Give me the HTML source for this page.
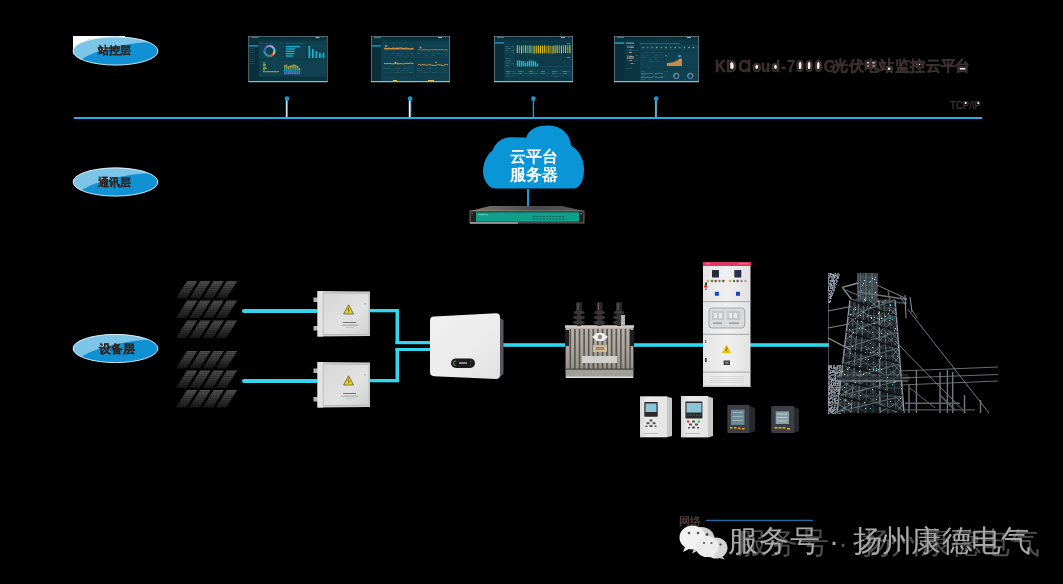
<!DOCTYPE html>
<html><head><meta charset="utf-8">
<style>
html,body{margin:0;padding:0;background:#000;}
body{width:1063px;height:584px;overflow:hidden;position:relative;font-family:"Liberation Sans",sans-serif;}
svg{position:absolute;left:0;top:0;will-change:transform;}
</style></head>
<body>
<svg width="1063" height="584" viewBox="0 0 1063 584" font-family="Liberation Sans, sans-serif">
<defs>
  <clipPath id="ellc"><ellipse cx="115.5" cy="0" rx="42.5" ry="14.2"/></clipPath>
  <g id="ell">
    <ellipse cx="115.5" cy="0" rx="42.5" ry="14.2" fill="#0f91d4"/>
    <path clip-path="url(#ellc)" d="M70,-16 L162,-16 L162,-10 C130,-8 100,-4 79,10 L70,14 Z" fill="#7dc5e7"/>
    <ellipse cx="115.5" cy="0" rx="42.4" ry="14.1" fill="none" stroke="#f0f8fc" stroke-width="1" opacity="0.85"/>
  </g>
  <linearGradient id="pg" x1="0" y1="0" x2="0" y2="1"><stop offset="0" stop-color="#525252"/><stop offset="0.5" stop-color="#363636"/><stop offset="1" stop-color="#181818"/></linearGradient>
  <pattern id="pstripe" width="3" height="2.2" patternUnits="userSpaceOnUse"><rect width="3" height="0.6" fill="#000" opacity="0.35"/><rect width="0.6" height="2.2" fill="#000" opacity="0.15"/></pattern>
</defs>
<rect x="73" y="36" width="52" height="18" fill="#fff"/>
<use href="#ell" y="51"/>
<use href="#ell" y="182"/>
<use href="#ell" y="348.5"/>
<g font-weight="bold" font-size="11" fill="#35241f" stroke="#35241f" stroke-width="0.15" text-anchor="middle">
  <text x="114.2" y="54">站控层</text>
  <text x="114.2" y="185.5">通讯层</text>
  <text x="117" y="353.2" font-size="12">设备层</text>
</g>
<rect x="74" y="117" width="908" height="2" fill="#29abe2"/>
<g>
  <rect x="285.8" y="100" width="1.3" height="17" fill="#c4e4f4"/><rect x="287.1" y="100" width="0.9" height="17" fill="#3aaae0"/>
  <rect x="408.8" y="100" width="1.9" height="17" fill="#f2f7fa"/><rect x="410.7" y="100" width="0.6" height="17" fill="#3aaae0"/>
  <rect x="532.7" y="100" width="1.4" height="17" fill="#1a9ad6"/>
  <rect x="654.9" y="100" width="0.6" height="17" fill="#3aaae0"/><rect x="655.5" y="100" width="1.1" height="17" fill="#d4ecf8"/><rect x="656.6" y="100" width="0.6" height="17" fill="#3aaae0"/>
</g>
<g fill="#1796d6">
  <circle cx="287" cy="98.6" r="2.4"/><circle cx="410.1" cy="98.6" r="2.4"/><circle cx="533.4" cy="98.6" r="2.4"/><circle cx="656.2" cy="98.6" r="2.4"/>
</g>
<g fill="#f4f0f0">
<rect x="730.2" y="62" width="3.8" height="7" rx="1.5"/>
<ellipse cx="756.6" cy="66.5" rx="1.6" ry="2.5"/>
<ellipse cx="775.6" cy="66.5" rx="1.6" ry="2.5"/>
<ellipse cx="800.1" cy="65" rx="1.9" ry="4.3"/>
<ellipse cx="809.1" cy="65" rx="1.9" ry="4.3"/>
<ellipse cx="818.1" cy="65" rx="1.9" ry="4.3"/>
<rect x="866.9" y="61.9" width="2.6" height="1.7"/><rect x="872.2" y="61.9" width="3.2" height="1.7"/>
<rect x="866.9" y="64.9" width="2.6" height="1.6"/><rect x="872.2" y="64.9" width="3.2" height="1.6"/>
<rect x="887.3" y="67.2" width="3.3" height="2.6"/>
<rect x="901" y="67.5" width="1.5" height="2"/><rect x="903.3" y="67.5" width="1.5" height="2"/>
<rect x="916.3" y="63.8" width="4" height="1.4"/>
<rect x="959.6" y="66.9" width="6.4" height="2.7"/>
</g>
<g transform="scale(0.88,1)"><text x="812.50 825.11 839.32 848.98 854.77 864.77 876.25 887.50 894.43 904.66 914.77 925.34 936.02" y="71.8" font-size="17" font-weight="bold" fill="#3d2f2f" stroke="#3d2f2f" stroke-width="0.45">KDCloud-7000G</text></g>
<text x="833 849.4 863.9 879.4 895.2 910.2 925.7 940.7 955.2" y="71.2" font-size="15" font-weight="bold" fill="#3d2f2f" stroke="#3d2f2f" stroke-width="0.35">光伏电站监控云平台</text>
<rect x="964.6" y="101.8" width="2" height="2.2" fill="#f0eaea"/><rect x="977.4" y="101.8" width="2" height="2.2" fill="#f0eaea"/>
<text x="950" y="108.8" font-size="11" fill="#4a3a3a" stroke="#4a3a3a" stroke-width="0.2" textLength="31" lengthAdjust="spacingAndGlyphs">TCP/IP</text>
<g id="screens"><rect x="248.5" y="36" width="79" height="46" fill="#0d3b49"/><rect x="248.5" y="36" width="79" height="2.6" fill="#082a35"/><rect x="248.5" y="38.6" width="79" height="2" fill="#0b3441"/><rect x="248.5" y="40.6" width="10" height="41.4" fill="#0a2f3b"/><rect x="248.5" y="81.2" width="79" height="1" fill="#e8eef0" opacity="0.85"/><rect x="248.5" y="36" width="0.6" height="46" fill="#cfd8dc" opacity="0.6"/><rect x="326.9" y="36" width="0.6" height="46" fill="#cfd8dc" opacity="0.6"/><rect x="248.5" y="36" width="79" height="0.6" fill="#cfd8dc" opacity="0.6"/><rect x="251.5" y="37" width="7" height="0.8" fill="#5c8a98"/><rect x="315.5" y="37" width="4" height="1" fill="#aab"/><rect x="322.5" y="36.8" width="0.8" height="1.2" fill="#c44"/><rect x="248.5" y="45" width="10" height="1.8" fill="#1e7fa0"/><rect x="250.0" y="48.0" width="5" height="0.5" fill="#2b5a68"/><rect x="250.0" y="50.2" width="5" height="0.5" fill="#2b5a68"/><rect x="250.0" y="52.4" width="5" height="0.5" fill="#2b5a68"/><rect x="250.0" y="54.6" width="5" height="0.5" fill="#2b5a68"/><rect x="250.0" y="56.8" width="5" height="0.5" fill="#2b5a68"/><rect x="250.0" y="59.0" width="5" height="0.5" fill="#2b5a68"/><rect x="250.0" y="61.2" width="5" height="0.5" fill="#2b5a68"/><rect x="250.0" y="63.400000000000006" width="5" height="0.5" fill="#2b5a68"/><rect x="259" y="42" width="25" height="17" fill="#0f4150"/><rect x="285" y="42" width="21" height="17" fill="#0f4150"/><rect x="307" y="42" width="20" height="17" fill="#0f4150"/><rect x="259" y="60" width="24" height="16" fill="#0f4150"/><rect x="284" y="60" width="43" height="16" fill="#0f4150"/><circle cx="269.5" cy="51" r="5" fill="none" stroke="#e8c030" stroke-width="2.2" stroke-dasharray="3.93 31.42" stroke-dashoffset="0.00"/><circle cx="269.5" cy="51" r="5" fill="none" stroke="#e05050" stroke-width="2.2" stroke-dasharray="3.93 31.42" stroke-dashoffset="-3.93"/><circle cx="269.5" cy="51" r="5" fill="none" stroke="#20a878" stroke-width="2.2" stroke-dasharray="3.93 31.42" stroke-dashoffset="-7.85"/><circle cx="269.5" cy="51" r="5" fill="none" stroke="#3a8ad0" stroke-width="2.2" stroke-dasharray="3.93 31.42" stroke-dashoffset="-11.78"/><circle cx="269.5" cy="51" r="5" fill="none" stroke="#2a6ab8" stroke-width="2.2" stroke-dasharray="3.93 31.42" stroke-dashoffset="-15.71"/><circle cx="269.5" cy="51" r="5" fill="none" stroke="#9a7ad8" stroke-width="2.2" stroke-dasharray="3.93 31.42" stroke-dashoffset="-19.63"/><circle cx="269.5" cy="51" r="5" fill="none" stroke="#c0a0e0" stroke-width="2.2" stroke-dasharray="3.93 31.42" stroke-dashoffset="-23.56"/><circle cx="269.5" cy="51" r="5" fill="none" stroke="#6ac0e8" stroke-width="2.2" stroke-dasharray="3.93 31.42" stroke-dashoffset="-27.49"/><rect x="285.8" y="46.00" width="14.2" height="1.3" fill="#1ab0d0"/><rect x="285.8" y="48.35" width="9.2" height="1.3" fill="#1ab0d0"/><rect x="285.8" y="50.70" width="8.8" height="1.3" fill="#1ab0d0"/><rect x="285.8" y="53.05" width="8.6" height="1.3" fill="#1ab0d0"/><rect x="285.8" y="55.40" width="7.2" height="1.3" fill="#1ab0d0"/><rect x="308.5" y="46" width="1.8" height="12" fill="#1ab0d0"/><rect x="312" y="49" width="1.8" height="9" fill="#1ab0d0"/><rect x="315.5" y="51" width="1.8" height="7" fill="#1ab0d0"/><rect x="319" y="52.8" width="1.8" height="5.200000000000003" fill="#1ab0d0"/><rect x="322.5" y="52.8" width="1.8" height="5.200000000000003" fill="#1ab0d0"/><rect x="263" y="71.2" width="16" height="1" fill="#c8a020"/><rect x="263" y="62.5" width="2" height="0.8" fill="#a8c040"/><rect x="263" y="63.9" width="3" height="0.8" fill="#a8c040"/><rect x="263" y="65.3" width="2.5" height="0.8" fill="#a8c040"/><rect x="263" y="66.7" width="3" height="0.8" fill="#a8c040"/><rect x="263" y="68.1" width="4" height="0.8" fill="#a8c040"/><rect x="263" y="69.5" width="2" height="0.8" fill="#a8c040"/><rect x="284.00" y="72.70" width="1.4" height="1.50" fill="#8a70d0"/><rect x="284.00" y="71.20" width="1.4" height="1.50" fill="#4a80d8"/><rect x="284.00" y="69.70" width="1.4" height="1.50" fill="#20a0c0"/><rect x="284.00" y="68.20" width="1.4" height="1.50" fill="#30b070"/><rect x="284.00" y="66.70" width="1.4" height="1.50" fill="#e08040"/><rect x="284.00" y="65.20" width="1.4" height="1.50" fill="#c0c040"/><rect x="285.85" y="72.62" width="1.4" height="1.58" fill="#8a70d0"/><rect x="285.85" y="71.03" width="1.4" height="1.58" fill="#4a80d8"/><rect x="285.85" y="69.45" width="1.4" height="1.58" fill="#20a0c0"/><rect x="285.85" y="67.87" width="1.4" height="1.58" fill="#30b070"/><rect x="285.85" y="66.28" width="1.4" height="1.58" fill="#e08040"/><rect x="285.85" y="64.70" width="1.4" height="1.58" fill="#c0c040"/><rect x="287.70" y="72.87" width="1.4" height="1.33" fill="#8a70d0"/><rect x="287.70" y="71.53" width="1.4" height="1.33" fill="#4a80d8"/><rect x="287.70" y="70.20" width="1.4" height="1.33" fill="#20a0c0"/><rect x="287.70" y="68.87" width="1.4" height="1.33" fill="#30b070"/><rect x="287.70" y="67.53" width="1.4" height="1.33" fill="#e08040"/><rect x="287.70" y="66.20" width="1.4" height="1.33" fill="#c0c040"/><rect x="289.55" y="72.78" width="1.4" height="1.42" fill="#8a70d0"/><rect x="289.55" y="71.37" width="1.4" height="1.42" fill="#4a80d8"/><rect x="289.55" y="69.95" width="1.4" height="1.42" fill="#20a0c0"/><rect x="289.55" y="68.53" width="1.4" height="1.42" fill="#30b070"/><rect x="289.55" y="67.12" width="1.4" height="1.42" fill="#e08040"/><rect x="289.55" y="65.70" width="1.4" height="1.42" fill="#c0c040"/><rect x="291.40" y="72.70" width="1.4" height="1.50" fill="#8a70d0"/><rect x="291.40" y="71.20" width="1.4" height="1.50" fill="#4a80d8"/><rect x="291.40" y="69.70" width="1.4" height="1.50" fill="#20a0c0"/><rect x="291.40" y="68.20" width="1.4" height="1.50" fill="#30b070"/><rect x="291.40" y="66.70" width="1.4" height="1.50" fill="#e08040"/><rect x="291.40" y="65.20" width="1.4" height="1.50" fill="#c0c040"/><rect x="293.25" y="72.57" width="1.4" height="1.63" fill="#8a70d0"/><rect x="293.25" y="70.93" width="1.4" height="1.63" fill="#4a80d8"/><rect x="293.25" y="69.30" width="1.4" height="1.63" fill="#20a0c0"/><rect x="293.25" y="67.67" width="1.4" height="1.63" fill="#30b070"/><rect x="293.25" y="66.03" width="1.4" height="1.63" fill="#e08040"/><rect x="293.25" y="64.40" width="1.4" height="1.63" fill="#c0c040"/><rect x="295.10" y="72.70" width="1.4" height="1.50" fill="#8a70d0"/><rect x="295.10" y="71.20" width="1.4" height="1.50" fill="#4a80d8"/><rect x="295.10" y="69.70" width="1.4" height="1.50" fill="#20a0c0"/><rect x="295.10" y="68.20" width="1.4" height="1.50" fill="#30b070"/><rect x="295.10" y="66.70" width="1.4" height="1.50" fill="#e08040"/><rect x="295.10" y="65.20" width="1.4" height="1.50" fill="#c0c040"/><rect x="296.95" y="72.87" width="1.4" height="1.33" fill="#8a70d0"/><rect x="296.95" y="71.53" width="1.4" height="1.33" fill="#4a80d8"/><rect x="296.95" y="70.20" width="1.4" height="1.33" fill="#20a0c0"/><rect x="296.95" y="68.87" width="1.4" height="1.33" fill="#30b070"/><rect x="296.95" y="67.53" width="1.4" height="1.33" fill="#e08040"/><rect x="296.95" y="66.20" width="1.4" height="1.33" fill="#c0c040"/><rect x="298.80" y="73.20" width="1.4" height="1.00" fill="#8a70d0"/><rect x="298.80" y="72.20" width="1.4" height="1.00" fill="#4a80d8"/><rect x="298.80" y="71.20" width="1.4" height="1.00" fill="#20a0c0"/><rect x="298.80" y="70.20" width="1.4" height="1.00" fill="#30b070"/><rect x="298.80" y="69.20" width="1.4" height="1.00" fill="#e08040"/><rect x="298.80" y="68.20" width="1.4" height="1.00" fill="#c0c040"/><rect x="259" y="77" width="68" height="4" fill="#0a3340"/><rect x="371" y="36" width="79" height="46" fill="#0d3b49"/><rect x="371" y="36" width="79" height="2.6" fill="#082a35"/><rect x="371" y="38.6" width="79" height="2" fill="#0b3441"/><rect x="371" y="40.6" width="10" height="41.4" fill="#0a2f3b"/><rect x="371" y="81.2" width="79" height="1" fill="#e8eef0" opacity="0.85"/><rect x="371" y="36" width="0.6" height="46" fill="#cfd8dc" opacity="0.6"/><rect x="449.4" y="36" width="0.6" height="46" fill="#cfd8dc" opacity="0.6"/><rect x="371" y="36" width="79" height="0.6" fill="#cfd8dc" opacity="0.6"/><rect x="374" y="37" width="7" height="0.8" fill="#5c8a98"/><rect x="438" y="37" width="4" height="1" fill="#aab"/><rect x="445" y="36.8" width="0.8" height="1.2" fill="#c44"/><rect x="371" y="45" width="10" height="1.8" fill="#1e7fa0"/><rect x="382" y="42" width="33" height="16" fill="#0f4150"/><rect x="416" y="42" width="33" height="16" fill="#0f4150"/><rect x="382" y="59" width="33" height="15" fill="#0f4150"/><rect x="416" y="59" width="33" height="15" fill="#0f4150"/><rect x="382" y="75" width="33" height="6" fill="#0f4150"/><rect x="416" y="75" width="33" height="6" fill="#0f4150"/><polyline points="384.0,48.4 385.6,48.3 387.1,48.8 388.7,48.2 390.2,48.6 391.8,48.5 393.3,48.2 394.9,48.6 396.5,48.1 398.0,48.5 399.6,48.2 401.1,48.2 402.7,48.5 404.3,48.9 405.8,48.2 407.4,48.3 408.9,48.7 410.5,49.0 412.0,48.7 413.6,48.5" fill="none" stroke="#d88a40" stroke-width="1.3"/><polyline points="384.0,49.9 385.6,49.3 387.1,49.8 388.7,49.5 390.2,49.4 391.8,49.4 393.3,49.5 394.9,49.8 396.5,49.4 398.0,49.6 399.6,49.7 401.1,49.5 402.7,49.6 404.3,49.3 405.8,49.3 407.4,49.4 408.9,49.7 410.5,49.6 412.0,49.5 413.6,49.7" fill="none" stroke="#20a0a8" stroke-width="0.6"/><polyline points="418.0,49.8 419.5,49.6 421.0,50.0 422.5,50.0 424.0,49.6 425.5,49.9 427.0,49.8 428.5,50.1 430.0,50.0 431.5,49.6 433.0,50.2 434.5,49.5 436.0,49.7 437.5,50.0 439.0,49.5 440.5,49.8 442.0,49.4 443.5,49.9 445.0,50.0 446.5,49.9 448.0,50.1" fill="none" stroke="#c08040" stroke-width="0.8"/><polyline points="384.0,63.4 385.6,63.7 387.1,63.6 388.7,63.6 390.2,63.5 391.8,63.8 393.3,63.9 394.9,63.5 396.5,63.6 398.0,63.1 399.6,63.7 401.1,63.6 402.7,63.9 404.3,63.8 405.8,63.3 407.4,63.4 408.9,63.6 410.5,63.1 412.0,63.5 413.6,63.2" fill="none" stroke="#d0a040" stroke-width="1.0"/><polyline points="418.0,64.5 419.5,64.5 421.0,65.3 422.5,64.6 424.0,64.7 425.5,64.9 427.0,65.4 428.5,64.5 430.0,64.9 431.5,65.1 433.0,65.5 434.5,65.4 436.0,65.4 437.5,64.7 439.0,64.9 440.5,64.8 442.0,65.5 443.5,65.5 445.0,64.6 446.5,64.6 448.0,64.7" fill="none" stroke="#c89040" stroke-width="1.0"/><circle cx="386" cy="46" r="0.9" fill="#e0a060"/><circle cx="420.5" cy="47.5" r="0.9" fill="#e09080"/><circle cx="395.5" cy="62.5" r="0.8" fill="#e0c040"/><circle cx="398" cy="64" r="0.8" fill="#e07070"/><circle cx="436" cy="62.5" r="0.8" fill="#e0c040"/><rect x="384" y="53" width="29" height="0.3" fill="#2a5866"/><rect x="418" y="53" width="29" height="0.3" fill="#2a5866"/><rect x="384" y="57" width="29" height="0.3" fill="#2a5866"/><rect x="418" y="57" width="29" height="0.3" fill="#2a5866"/><rect x="384" y="68" width="29" height="0.3" fill="#2a5866"/><rect x="418" y="68" width="29" height="0.3" fill="#2a5866"/><rect x="384" y="72" width="29" height="0.3" fill="#2a5866"/><rect x="418" y="72" width="29" height="0.3" fill="#2a5866"/><rect x="393" y="80" width="4" height="1" fill="#e0c040"/><rect x="428" y="80" width="6" height="1" fill="#e0c040"/><rect x="494" y="36" width="79" height="46" fill="#0d3b49"/><rect x="494" y="36" width="79" height="2.6" fill="#082a35"/><rect x="494" y="38.6" width="79" height="2" fill="#0b3441"/><rect x="494" y="40.6" width="10" height="41.4" fill="#0a2f3b"/><rect x="494" y="81.2" width="79" height="1" fill="#e8eef0" opacity="0.85"/><rect x="494" y="36" width="0.6" height="46" fill="#cfd8dc" opacity="0.6"/><rect x="572.4" y="36" width="0.6" height="46" fill="#cfd8dc" opacity="0.6"/><rect x="494" y="36" width="79" height="0.6" fill="#cfd8dc" opacity="0.6"/><rect x="497" y="37" width="7" height="0.8" fill="#5c8a98"/><rect x="561" y="37" width="4" height="1" fill="#aab"/><rect x="568" y="36.8" width="0.8" height="1.2" fill="#c44"/><rect x="494" y="42" width="10" height="1.8" fill="#1e7fa0"/><rect x="505" y="43" width="67" height="1.2" fill="#0a3442"/><rect x="505" y="44.5" width="9.5" height="11" fill="#0f4150"/><rect x="505" y="57" width="9.5" height="11" fill="#0f4150"/><rect x="567" y="43.2" width="3" height="1" fill="#1aa0d8"/><rect x="567" y="57" width="3" height="1" fill="#1aa0d8"/><rect x="516.8" y="45.3" width="1.1" height="7.8" fill="#e0c020"/><rect x="518.9" y="45.5" width="1.1" height="7.8" fill="#20b0c8"/><rect x="521.0" y="45.6" width="1.1" height="7.8" fill="#e0c020"/><rect x="523.1" y="45.4" width="1.1" height="7.8" fill="#20b0c8"/><rect x="525.2" y="45.2" width="1.1" height="7.8" fill="#e0c020"/><rect x="527.3" y="45.5" width="1.1" height="7.8" fill="#20b0c8"/><rect x="529.4" y="45.4" width="1.1" height="7.8" fill="#e0c020"/><rect x="531.5" y="45.5" width="1.1" height="7.8" fill="#20b0c8"/><rect x="533.6" y="45.8" width="1.1" height="7.8" fill="#e0c020"/><rect x="535.7" y="45.6" width="1.1" height="7.8" fill="#e0c020"/><rect x="537.8" y="45.5" width="1.1" height="7.8" fill="#e0c020"/><rect x="539.9" y="45.6" width="1.1" height="7.8" fill="#e0c020"/><rect x="542.0" y="45.6" width="1.1" height="7.8" fill="#e0c020"/><rect x="544.1" y="45.2" width="1.1" height="7.8" fill="#e0c020"/><rect x="546.2" y="45.7" width="1.1" height="7.8" fill="#a89828"/><rect x="548.3" y="45.7" width="1.1" height="7.8" fill="#e0c020"/><rect x="550.4" y="45.7" width="1.1" height="7.8" fill="#a89828"/><rect x="552.5" y="45.7" width="1.1" height="7.8" fill="#e0c020"/><rect x="554.6" y="45.4" width="1.1" height="7.8" fill="#e0c020"/><rect x="556.7" y="45.4" width="1.1" height="7.8" fill="#e0c020"/><rect x="558.8" y="45.3" width="1.1" height="7.8" fill="#a89828"/><rect x="560.9" y="45.6" width="1.1" height="7.8" fill="#e0c020"/><rect x="563.0" y="45.2" width="1.1" height="7.8" fill="#a89828"/><rect x="565.1" y="45.2" width="1.1" height="7.8" fill="#e0c020"/><rect x="567.2" y="45.3" width="1.1" height="7.8" fill="#a89828"/><rect x="569.3" y="45.3" width="1.1" height="7.8" fill="#e0c020"/><rect x="516.8" y="60.5" width="1.4" height="6.0" fill="#20b8d8"/><rect x="518.8" y="60.5" width="1.4" height="6.0" fill="#20b8d8"/><rect x="520.8" y="61.0" width="1.4" height="5.5" fill="#20b8d8"/><rect x="522.8" y="61.0" width="1.4" height="5.5" fill="#20b8d8"/><rect x="524.8" y="62.5" width="1.4" height="4.0" fill="#20b8d8"/><rect x="526.8" y="61.5" width="1.4" height="5.0" fill="#20b8d8"/><rect x="528.8" y="60.5" width="1.4" height="6.0" fill="#20b8d8"/><rect x="530.8" y="60.5" width="1.4" height="6.0" fill="#20b8d8"/><rect x="532.8" y="61.0" width="1.4" height="5.5" fill="#20b8d8"/><rect x="534.8" y="61.5" width="1.4" height="5.0" fill="#20b8d8"/><rect x="536.8" y="63.5" width="1.4" height="3.0" fill="#20b8d8"/><rect x="539" y="66" width="32" height="0.4" fill="#2a5866"/><rect x="505" y="69" width="67" height="8" fill="#0f4150"/><rect x="506" y="71.3" width="4" height="0.6" fill="#6a9aa8"/><rect x="506" y="73.3" width="4" height="0.6" fill="#5a8a98"/><rect x="518" y="71.3" width="4" height="0.6" fill="#6a9aa8"/><rect x="518" y="73.3" width="4" height="0.6" fill="#5a8a98"/><rect x="529" y="71.3" width="4" height="0.6" fill="#6a9aa8"/><rect x="529" y="73.3" width="4" height="0.6" fill="#5a8a98"/><rect x="541" y="71.3" width="4" height="0.6" fill="#6a9aa8"/><rect x="541" y="73.3" width="4" height="0.6" fill="#5a8a98"/><rect x="552" y="71.3" width="4" height="0.6" fill="#6a9aa8"/><rect x="552" y="73.3" width="4" height="0.6" fill="#5a8a98"/><rect x="563" y="71.3" width="4" height="0.6" fill="#6a9aa8"/><rect x="563" y="73.3" width="4" height="0.6" fill="#5a8a98"/><rect x="614" y="36" width="85" height="46" fill="#0d3b49"/><rect x="614" y="36" width="85" height="2.6" fill="#082a35"/><rect x="614" y="38.6" width="85" height="2" fill="#0b3441"/><rect x="614" y="40.6" width="10.5" height="41.4" fill="#0a2f3b"/><rect x="614" y="81.2" width="85" height="1" fill="#e8eef0" opacity="0.85"/><rect x="614" y="36" width="0.6" height="46" fill="#cfd8dc" opacity="0.6"/><rect x="698.4" y="36" width="0.6" height="46" fill="#cfd8dc" opacity="0.6"/><rect x="614" y="36" width="85" height="0.6" fill="#cfd8dc" opacity="0.6"/><rect x="617" y="37" width="7" height="0.8" fill="#5c8a98"/><rect x="687" y="37" width="4" height="1" fill="#aab"/><rect x="694" y="36.8" width="0.8" height="1.2" fill="#c44"/><rect x="614" y="42" width="10.5" height="2" fill="#1e7fa0"/><rect x="624.5" y="40" width="15" height="41" fill="#0b3542"/><rect x="626" y="42.5" width="8" height="1.2" fill="#5ab0d0"/><rect x="630.4" y="47" width="3" height="1" fill="#e07050"/><rect x="629.2" y="49.5" width="3" height="1" fill="#3a80d8"/><rect x="629.0" y="52" width="3" height="1" fill="#e08060"/><rect x="629.6" y="56" width="3" height="1" fill="#e07050"/><rect x="629.4" y="60" width="3" height="1" fill="#e08050"/><rect x="630.5" y="63" width="3" height="1" fill="#e07060"/><rect x="640" y="42.5" width="58" height="1.3" fill="#0a3040"/><rect x="640" y="44.5" width="58" height="6" fill="#0f4150"/><circle cx="643.0" cy="47.5" r="0.8" fill="#30c070"/><circle cx="647.6" cy="47.5" r="0.8" fill="#3a80d8"/><circle cx="652.2" cy="47.5" r="0.8" fill="#e05050"/><circle cx="656.8" cy="47.5" r="0.8" fill="#e0a040"/><circle cx="661.4" cy="47.5" r="0.8" fill="#40a0a0"/><circle cx="666.0" cy="47.5" r="0.8" fill="#e0a040"/><circle cx="670.6" cy="47.5" r="0.8" fill="#40c060"/><circle cx="675.2" cy="47.5" r="0.8" fill="#e08080"/><circle cx="679.8" cy="47.5" r="0.8" fill="#9070c0"/><circle cx="684.4" cy="47.5" r="0.8" fill="#40c060"/><circle cx="689.0" cy="47.5" r="0.8" fill="#e0a040"/><circle cx="693.6" cy="47.5" r="0.8" fill="#e08080"/><rect x="640" y="51.5" width="24" height="17" fill="#0f4150"/><rect x="665" y="51.5" width="33" height="17" fill="#0f4150"/><rect x="665.5" y="55" width="1" height="1.5" fill="#3aa8e0"/><rect x="678" y="55.3" width="3" height="1.5" fill="#3aa8e0"/><path d="M667,66 L667,63 L672,62.5 L675,61.5 L678,60 L680,58.3 L682,59 L682,66 Z" fill="#c88a48"/><rect x="640" y="70" width="58" height="11" fill="#0f4150"/><circle cx="676.2" cy="76" r="2.6" fill="none" stroke="#8090d8" stroke-width="0.9"/><path d="M676.2,73.4 A2.6,2.6 0 0 1 678.8000000000001,76" fill="none" stroke="#e06060" stroke-width="0.9"/><path d="M673.6,76 A2.6,2.6 0 0 1 676.2,73.4" fill="none" stroke="#40c0a0" stroke-width="0.9"/><circle cx="690.3" cy="76" r="2.6" fill="none" stroke="#8090d8" stroke-width="0.9"/><path d="M690.3,73.4 A2.6,2.6 0 0 1 692.9,76" fill="none" stroke="#e06060" stroke-width="0.9"/><path d="M687.6999999999999,76 A2.6,2.6 0 0 1 690.3,73.4" fill="none" stroke="#40c0a0" stroke-width="0.9"/><rect x="641" y="73" width="12" height="0.6" fill="#5a8a98"/><rect x="641" y="77" width="12" height="0.6" fill="#5a8a98"/><rect x="655" y="73" width="8" height="0.6" fill="#40a060"/><rect x="655" y="77" width="8" height="0.6" fill="#40a060"/><rect x="646.1" y="52.5" width="2.6" height="0.5" fill="#3d6876" opacity="0.8"/><rect x="651.1" y="52.5" width="3.5" height="0.5" fill="#3d6876" opacity="0.8"/><rect x="658.2" y="52.5" width="4.8" height="0.5" fill="#3d6876" opacity="0.8"/><rect x="641.0" y="54.7" width="2.3" height="0.5" fill="#3d6876" opacity="0.8"/><rect x="655.6" y="54.7" width="2.6" height="0.5" fill="#3d6876" opacity="0.8"/><rect x="641.0" y="56.9" width="4.8" height="0.5" fill="#3d6876" opacity="0.8"/><rect x="653.7" y="56.9" width="5.1" height="0.5" fill="#3d6876" opacity="0.8"/><rect x="649.6" y="59.1" width="2.9" height="0.5" fill="#3d6876" opacity="0.8"/><rect x="654.9" y="59.1" width="2.1" height="0.5" fill="#3d6876" opacity="0.8"/><rect x="648.8" y="61.3" width="5.8" height="0.5" fill="#3d6876" opacity="0.8"/><rect x="656.6" y="61.3" width="2.9" height="0.5" fill="#3d6876" opacity="0.8"/><rect x="647.9" y="67.9" width="2.7" height="0.5" fill="#3d6876" opacity="0.8"/><rect x="641.0" y="71.5" width="3.4" height="0.5" fill="#4a7a88" opacity="0.8"/><rect x="665.6" y="71.5" width="2.4" height="0.5" fill="#4a7a88" opacity="0.8"/><rect x="641.0" y="74.0" width="4.3" height="0.5" fill="#4a7a88" opacity="0.8"/><rect x="652.8" y="74.0" width="3.8" height="0.5" fill="#4a7a88" opacity="0.8"/><rect x="641.0" y="76.5" width="4.1" height="0.5" fill="#4a7a88" opacity="0.8"/><rect x="646.7" y="76.5" width="3.8" height="0.5" fill="#4a7a88" opacity="0.8"/><rect x="651.9" y="76.5" width="5.2" height="0.5" fill="#4a7a88" opacity="0.8"/><rect x="659.8" y="76.5" width="4.9" height="0.5" fill="#4a7a88" opacity="0.8"/><rect x="641.0" y="79.0" width="4.1" height="0.5" fill="#4a7a88" opacity="0.8"/><rect x="648.5" y="79.0" width="2.4" height="0.5" fill="#4a7a88" opacity="0.8"/><rect x="640" y="43" width="40" height="1" fill="#3a6a7a" opacity="0.8"/><rect x="626.0" y="47.6" width="4.1" height="0.5" fill="#4a7a88" opacity="0.8"/><rect x="626.0" y="50.2" width="3.0" height="0.5" fill="#4a7a88" opacity="0.8"/><rect x="632.9" y="50.2" width="5.1" height="0.5" fill="#4a7a88" opacity="0.8"/><rect x="626.0" y="52.8" width="3.8" height="0.5" fill="#4a7a88" opacity="0.8"/><rect x="626.0" y="55.4" width="5.6" height="0.5" fill="#4a7a88" opacity="0.8"/><rect x="634.9" y="55.4" width="3.1" height="0.5" fill="#4a7a88" opacity="0.8"/><rect x="626.0" y="58.0" width="5.9" height="0.5" fill="#4a7a88" opacity="0.8"/><rect x="635.8" y="58.0" width="2.2" height="0.5" fill="#4a7a88" opacity="0.8"/><rect x="626.0" y="60.6" width="5.3" height="0.5" fill="#4a7a88" opacity="0.8"/><rect x="633.9" y="60.6" width="4.1" height="0.5" fill="#4a7a88" opacity="0.8"/><rect x="630.8" y="63.2" width="4.2" height="0.5" fill="#4a7a88" opacity="0.8"/><rect x="626.0" y="68.4" width="5.9" height="0.5" fill="#4a7a88" opacity="0.8"/><rect x="627" y="56" width="7" height="3" fill="#8ab0c0" opacity="0.5"/><rect x="627" y="45.5" width="7" height="2.5" fill="#8ab0c0" opacity="0.4"/><rect x="505.5" y="46.0" width="2.5" height="0.5" fill="#5a8a98" opacity="0.8"/><rect x="511.8" y="46.0" width="2.2" height="0.5" fill="#5a8a98" opacity="0.8"/><rect x="505.5" y="48.2" width="5.7" height="0.5" fill="#5a8a98" opacity="0.8"/><rect x="505.5" y="50.4" width="2.4" height="0.5" fill="#5a8a98" opacity="0.8"/><rect x="511.1" y="50.4" width="2.9" height="0.5" fill="#5a8a98" opacity="0.8"/><rect x="511.7" y="52.6" width="2.3" height="0.5" fill="#5a8a98" opacity="0.8"/><rect x="505.5" y="58.5" width="3.8" height="0.5" fill="#5a8a98" opacity="0.8"/><rect x="505.5" y="60.7" width="5.7" height="0.5" fill="#5a8a98" opacity="0.8"/><rect x="505.5" y="62.9" width="4.1" height="0.5" fill="#5a8a98" opacity="0.8"/><rect x="511.4" y="62.9" width="2.6" height="0.5" fill="#5a8a98" opacity="0.8"/><rect x="505.5" y="65.1" width="3.2" height="0.5" fill="#5a8a98" opacity="0.8"/><rect x="506.0" y="71.0" width="3.2" height="0.5" fill="#4a7a88" opacity="0.8"/><rect x="511.1" y="71.0" width="3.4" height="0.5" fill="#4a7a88" opacity="0.8"/><rect x="521.6" y="71.0" width="2.8" height="0.5" fill="#4a7a88" opacity="0.8"/><rect x="554.2" y="71.0" width="4.5" height="0.5" fill="#4a7a88" opacity="0.8"/><rect x="561.2" y="71.0" width="2.2" height="0.5" fill="#4a7a88" opacity="0.8"/><rect x="565.0" y="71.0" width="5.0" height="0.5" fill="#4a7a88" opacity="0.8"/><rect x="512.0" y="73.5" width="4.7" height="0.5" fill="#4a7a88" opacity="0.8"/><rect x="518.8" y="73.5" width="3.2" height="0.5" fill="#4a7a88" opacity="0.8"/><rect x="523.9" y="73.5" width="3.8" height="0.5" fill="#4a7a88" opacity="0.8"/><rect x="531.6" y="73.5" width="5.9" height="0.5" fill="#4a7a88" opacity="0.8"/><rect x="539.6" y="73.5" width="5.9" height="0.5" fill="#4a7a88" opacity="0.8"/><rect x="547.8" y="73.5" width="2.0" height="0.5" fill="#4a7a88" opacity="0.8"/><rect x="552.5" y="73.5" width="4.0" height="0.5" fill="#4a7a88" opacity="0.8"/><rect x="559.3" y="73.5" width="2.0" height="0.5" fill="#4a7a88" opacity="0.8"/><rect x="563.0" y="73.5" width="3.6" height="0.5" fill="#4a7a88" opacity="0.8"/><rect x="506.0" y="76.0" width="3.2" height="0.5" fill="#4a7a88" opacity="0.8"/><rect x="553.7" y="76.0" width="4.1" height="0.5" fill="#4a7a88" opacity="0.8"/><rect x="391.8" y="53.0" width="2.9" height="0.5" fill="#3d6876" opacity="0.8"/><rect x="396.6" y="53.0" width="3.4" height="0.5" fill="#3d6876" opacity="0.8"/><rect x="410.9" y="53.0" width="3.1" height="0.5" fill="#3d6876" opacity="0.8"/><rect x="396.8" y="55.0" width="4.9" height="0.5" fill="#3d6876" opacity="0.8"/><rect x="417.0" y="53.0" width="3.5" height="0.5" fill="#3d6876" opacity="0.8"/><rect x="431.9" y="53.0" width="2.3" height="0.5" fill="#3d6876" opacity="0.8"/><rect x="436.4" y="53.0" width="5.0" height="0.5" fill="#3d6876" opacity="0.8"/><rect x="444.3" y="53.0" width="2.0" height="0.5" fill="#3d6876" opacity="0.8"/><rect x="424.9" y="55.0" width="3.2" height="0.5" fill="#3d6876" opacity="0.8"/><rect x="430.7" y="55.0" width="3.9" height="0.5" fill="#3d6876" opacity="0.8"/><rect x="444.9" y="55.0" width="2.1" height="0.5" fill="#3d6876" opacity="0.8"/><rect x="383.0" y="68.0" width="5.9" height="0.5" fill="#3d6876" opacity="0.8"/><rect x="395.9" y="68.0" width="4.3" height="0.5" fill="#3d6876" opacity="0.8"/><rect x="403.0" y="68.0" width="5.8" height="0.5" fill="#3d6876" opacity="0.8"/><rect x="395.9" y="70.0" width="2.1" height="0.5" fill="#3d6876" opacity="0.8"/><rect x="400.8" y="70.0" width="3.8" height="0.5" fill="#3d6876" opacity="0.8"/><rect x="406.4" y="70.0" width="3.4" height="0.5" fill="#3d6876" opacity="0.8"/><rect x="394.4" y="72.0" width="5.6" height="0.5" fill="#3d6876" opacity="0.8"/><rect x="408.9" y="72.0" width="3.4" height="0.5" fill="#3d6876" opacity="0.8"/><rect x="417.0" y="68.0" width="2.2" height="0.5" fill="#3d6876" opacity="0.8"/><rect x="428.0" y="68.0" width="3.1" height="0.5" fill="#3d6876" opacity="0.8"/><rect x="417.0" y="70.0" width="5.8" height="0.5" fill="#3d6876" opacity="0.8"/><rect x="442.1" y="70.0" width="3.9" height="0.5" fill="#3d6876" opacity="0.8"/><rect x="424.1" y="72.0" width="4.6" height="0.5" fill="#3d6876" opacity="0.8"/><rect x="431.6" y="72.0" width="3.6" height="0.5" fill="#3d6876" opacity="0.8"/><rect x="259.5" y="43.0" width="3.8" height="0.5" fill="#3d6876" opacity="0.8"/><rect x="265.3" y="43.0" width="2.4" height="0.5" fill="#3d6876" opacity="0.8"/><rect x="269.4" y="43.0" width="3.0" height="0.5" fill="#3d6876" opacity="0.8"/><rect x="285.5" y="43.0" width="3.7" height="0.5" fill="#3d6876" opacity="0.8"/><rect x="291.6" y="43.0" width="3.4" height="0.5" fill="#3d6876" opacity="0.8"/><rect x="297.1" y="43.0" width="5.9" height="0.5" fill="#3d6876" opacity="0.8"/></g>
<path d="M495.5,188.5 C489,188.5 483,180 483,171.4 C483,163 487,154 492.8,150.2 C495,143 502,137.2 511,137.2 L526.4,137.5 C528,130 536,125.5 547.6,125.5 C560,125.5 570,133 571,145.4 C579,150 584,159 584,168.7 C584,180 580,188.5 573.6,188.5 Z" fill="#0a96d6"/>
<g font-size="16" font-weight="bold" fill="#fff" text-anchor="middle">
  <text x="534" y="161.6">云平台</text>
  <text x="534" y="180.3">服务器</text>
</g>
<rect x="527" y="189" width="2" height="17" fill="#1d9bd8"/>
<linearGradient id="srvtop" x1="0" y1="0" x2="1" y2="0"><stop offset="0" stop-color="#8a7866"/><stop offset="0.25" stop-color="#6a625a"/><stop offset="0.6" stop-color="#4a4a4c"/><stop offset="1" stop-color="#5a5a5c"/></linearGradient>
<path d="M490,206 L562,206 L584,211 L470,211 Z" fill="url(#srvtop)"/>
<rect x="470" y="211" width="114" height="12" fill="#202020" stroke="#aaa" stroke-width="0.6"/>
<rect x="476" y="212.3" width="103" height="9.4" fill="#0fa08b"/>
<rect x="470" y="222.5" width="48" height="1" fill="#ddd"/>
<rect x="471.5" y="213" width="1.5" height="1.2" fill="#c33"/><rect x="580.5" y="213" width="1.5" height="1.2" fill="#999"/>
<rect x="478" y="214.5" width="10" height="0.6" fill="#9fe0d4"/>
<g fill="#0a6a5c"><rect x="533.0" y="216" width="2.4" height="1"/><rect x="533.0" y="218.5" width="2.4" height="1"/><rect x="536.2" y="216" width="2.4" height="1"/><rect x="536.2" y="218.5" width="2.4" height="1"/><rect x="539.4" y="216" width="2.4" height="1"/><rect x="539.4" y="218.5" width="2.4" height="1"/><rect x="542.6" y="216" width="2.4" height="1"/><rect x="542.6" y="218.5" width="2.4" height="1"/><rect x="545.8" y="216" width="2.4" height="1"/><rect x="545.8" y="218.5" width="2.4" height="1"/><rect x="549.0" y="216" width="2.4" height="1"/><rect x="549.0" y="218.5" width="2.4" height="1"/><rect x="552.2" y="216" width="2.4" height="1"/><rect x="552.2" y="218.5" width="2.4" height="1"/><rect x="555.4" y="216" width="2.4" height="1"/><rect x="555.4" y="218.5" width="2.4" height="1"/><rect x="558.6" y="216" width="2.4" height="1"/><rect x="558.6" y="218.5" width="2.4" height="1"/><rect x="561.8" y="216" width="2.4" height="1"/><rect x="561.8" y="218.5" width="2.4" height="1"/></g>
<!-- ===== device layer ===== -->
<g fill="url(#pg)">
<path d="M187.0,281 L197.3,281 L186.3,298.5 L176.0,298.5 Z"/>
<path d="M200.3,281 L210.6,281 L199.6,298.5 L189.3,298.5 Z"/>
<path d="M213.6,281 L223.9,281 L212.9,298.5 L202.6,298.5 Z"/>
<path d="M226.9,281 L237.2,281 L226.2,298.5 L215.9,298.5 Z"/>
<path d="M187.0,300.5 L197.3,300.5 L186.3,318.0 L176.0,318.0 Z"/>
<path d="M200.3,300.5 L210.6,300.5 L199.6,318.0 L189.3,318.0 Z"/>
<path d="M213.6,300.5 L223.9,300.5 L212.9,318.0 L202.6,318.0 Z"/>
<path d="M226.9,300.5 L237.2,300.5 L226.2,318.0 L215.9,318.0 Z"/>
<path d="M187.0,320.5 L197.3,320.5 L186.3,338.0 L176.0,338.0 Z"/>
<path d="M200.3,320.5 L210.6,320.5 L199.6,338.0 L189.3,338.0 Z"/>
<path d="M213.6,320.5 L223.9,320.5 L212.9,338.0 L202.6,338.0 Z"/>
<path d="M226.9,320.5 L237.2,320.5 L226.2,338.0 L215.9,338.0 Z"/>
<path d="M187.0,351 L197.3,351 L186.3,368.5 L176.0,368.5 Z"/>
<path d="M200.3,351 L210.6,351 L199.6,368.5 L189.3,368.5 Z"/>
<path d="M213.6,351 L223.9,351 L212.9,368.5 L202.6,368.5 Z"/>
<path d="M226.9,351 L237.2,351 L226.2,368.5 L215.9,368.5 Z"/>
<path d="M187.0,370.5 L197.3,370.5 L186.3,388.0 L176.0,388.0 Z"/>
<path d="M200.3,370.5 L210.6,370.5 L199.6,388.0 L189.3,388.0 Z"/>
<path d="M213.6,370.5 L223.9,370.5 L212.9,388.0 L202.6,388.0 Z"/>
<path d="M226.9,370.5 L237.2,370.5 L226.2,388.0 L215.9,388.0 Z"/>
<path d="M187.0,390 L197.3,390 L186.3,407.5 L176.0,407.5 Z"/>
<path d="M200.3,390 L210.6,390 L199.6,407.5 L189.3,407.5 Z"/>
<path d="M213.6,390 L223.9,390 L212.9,407.5 L202.6,407.5 Z"/>
<path d="M226.9,390 L237.2,390 L226.2,407.5 L215.9,407.5 Z"/>
</g>
<g fill="url(#pstripe)">
<path d="M187.0,281 L197.3,281 L186.3,298.5 L176.0,298.5 Z"/>
<path d="M200.3,281 L210.6,281 L199.6,298.5 L189.3,298.5 Z"/>
<path d="M213.6,281 L223.9,281 L212.9,298.5 L202.6,298.5 Z"/>
<path d="M226.9,281 L237.2,281 L226.2,298.5 L215.9,298.5 Z"/>
<path d="M187.0,300.5 L197.3,300.5 L186.3,318.0 L176.0,318.0 Z"/>
<path d="M200.3,300.5 L210.6,300.5 L199.6,318.0 L189.3,318.0 Z"/>
<path d="M213.6,300.5 L223.9,300.5 L212.9,318.0 L202.6,318.0 Z"/>
<path d="M226.9,300.5 L237.2,300.5 L226.2,318.0 L215.9,318.0 Z"/>
<path d="M187.0,320.5 L197.3,320.5 L186.3,338.0 L176.0,338.0 Z"/>
<path d="M200.3,320.5 L210.6,320.5 L199.6,338.0 L189.3,338.0 Z"/>
<path d="M213.6,320.5 L223.9,320.5 L212.9,338.0 L202.6,338.0 Z"/>
<path d="M226.9,320.5 L237.2,320.5 L226.2,338.0 L215.9,338.0 Z"/>
<path d="M187.0,351 L197.3,351 L186.3,368.5 L176.0,368.5 Z"/>
<path d="M200.3,351 L210.6,351 L199.6,368.5 L189.3,368.5 Z"/>
<path d="M213.6,351 L223.9,351 L212.9,368.5 L202.6,368.5 Z"/>
<path d="M226.9,351 L237.2,351 L226.2,368.5 L215.9,368.5 Z"/>
<path d="M187.0,370.5 L197.3,370.5 L186.3,388.0 L176.0,388.0 Z"/>
<path d="M200.3,370.5 L210.6,370.5 L199.6,388.0 L189.3,388.0 Z"/>
<path d="M213.6,370.5 L223.9,370.5 L212.9,388.0 L202.6,388.0 Z"/>
<path d="M226.9,370.5 L237.2,370.5 L226.2,388.0 L215.9,388.0 Z"/>
<path d="M187.0,390 L197.3,390 L186.3,407.5 L176.0,407.5 Z"/>
<path d="M200.3,390 L210.6,390 L199.6,407.5 L189.3,407.5 Z"/>
<path d="M213.6,390 L223.9,390 L212.9,407.5 L202.6,407.5 Z"/>
<path d="M226.9,390 L237.2,390 L226.2,407.5 L215.9,407.5 Z"/>
</g>
<!-- cyan lines -->
<g fill="#33d6ee">
  <rect x="242" y="309" width="76" height="4" rx="2"/>
  <rect x="242" y="379" width="76" height="4" rx="2"/>
  <rect x="369" y="309" width="30" height="3.3"/>
  <rect x="395.5" y="309" width="3.5" height="35"/>
  <rect x="395.5" y="341" width="35" height="3.2"/>
  <rect x="395.5" y="348" width="35" height="3"/>
  <rect x="395.5" y="348" width="3.5" height="33.6"/>
  <rect x="369" y="379" width="30" height="3.3"/>
  <rect x="502" y="343.2" width="65" height="3.6"/>
  <rect x="633" y="343.2" width="71" height="3.6"/>
  <rect x="750" y="343.2" width="79" height="3.6"/>
</g>
<!-- combiner boxes -->
<g id="cb1">
  <linearGradient id="cbg" x1="0" y1="0" x2="1" y2="1"><stop offset="0" stop-color="#d6d6d6"/><stop offset="0.6" stop-color="#e2e2e2"/><stop offset="1" stop-color="#d0d0d0"/></linearGradient>
  <rect x="313.5" y="297.5" width="4.5" height="4.5" fill="#b4b4b4"/>
  <rect x="313.5" y="326" width="4.5" height="4.5" fill="#b4b4b4"/>
  <path d="M317.5,291 L370,291.6 L370,336 L317.5,336.5 Z" fill="#cfcfcf"/>
  <rect x="317.5" y="291" width="5.5" height="45.5" fill="#e4e4e4"/>
  <path d="M323,293 L369,293.4 L369,334.3 L323,334.5 Z" fill="url(#cbg)" stroke="#a8a8a8" stroke-width="0.6"/>
  <path d="M348.6,304.8 L353.6,314 L343.6,314 Z" fill="#e8d020" stroke="#333" stroke-width="0.6" stroke-linejoin="round"/>
  <path d="M348.9,307.5 L347.8,310 L349.4,310 L348.3,312.5" stroke="#333" stroke-width="0.5" fill="none"/>
  <rect x="343" y="322" width="13" height="0.9" fill="#666"/>
  <rect x="341.5" y="324.8" width="16.5" height="0.7" fill="#888"/>
  <rect x="345" y="327.5" width="9" height="0.5" fill="#aaa"/>
  <rect x="364.5" y="303" width="1" height="1.6" fill="#999"/>
</g>
<use href="#cb1" y="71"/>

<!-- inverter -->
<path d="M500,318 L503.5,320 L503.5,374 L500,377 Z" fill="#55575c"/>
<linearGradient id="invg" x1="0" y1="0" x2="1" y2="1"><stop offset="0" stop-color="#f0f0f0"/><stop offset="0.6" stop-color="#ebebeb"/><stop offset="1" stop-color="#e0e0e0"/></linearGradient><path d="M434,316.6 L496,313.3 Q500,313.2 500,317.5 L500,375 Q500,379 496,379 L434,376.2 Q430,376 430,372 L430,320.6 Q430,316.8 434,316.6 Z" fill="url(#invg)"/>
<rect x="451" y="358.4" width="24" height="9.6" rx="4.8" fill="#1b1b1b"/>
<path d="M455.5,361 A2.2,2.2 0 0 0 455.5,365.4" fill="none" stroke="#3c3" stroke-width="0.9"/><circle cx="455.8" cy="361.2" r="0.5" fill="#e08020"/><circle cx="470.5" cy="361.5" r="0.8" fill="#555"/><circle cx="470.5" cy="365" r="0.8" fill="#555"/>
<rect x="459" y="362" width="8" height="2" fill="#888"/>

<!-- transformer -->
<g id="tr">
  <linearGradient id="fin" x1="0" y1="0" x2="0" y2="1"><stop offset="0" stop-color="#b8b2aa"/><stop offset="0.5" stop-color="#a8a39c"/><stop offset="1" stop-color="#8e8a84"/></linearGradient>
  <rect x="565" y="326" width="69" height="52" fill="#4a4744"/>
  <rect x="566" y="327" width="67" height="50" fill="url(#fin)"/>
  <g fill="#57534e"><rect x="569.5" y="329" width="1.6" height="40"/><rect x="574.1" y="329" width="1.6" height="40"/><rect x="578.7" y="329" width="1.6" height="40"/><rect x="583.3" y="329" width="1.6" height="40"/><rect x="587.9" y="329" width="1.6" height="40"/><rect x="592.5" y="329" width="1.6" height="40"/><rect x="597.1" y="329" width="1.6" height="40"/><rect x="601.7" y="329" width="1.6" height="40"/><rect x="606.3" y="329" width="1.6" height="40"/><rect x="610.9" y="329" width="1.6" height="40"/><rect x="615.5" y="329" width="1.6" height="40"/><rect x="620.1" y="329" width="1.6" height="40"/><rect x="624.7" y="329" width="1.6" height="40"/><rect x="629.3" y="329" width="1.6" height="40"/></g>
  <rect x="565" y="330" width="4" height="16" fill="#1e1e1e"/>
  <rect x="630" y="330" width="4" height="16" fill="#1e1e1e"/>
  <rect x="565" y="325.2" width="69" height="2.6" fill="#d0cac2"/>
  <rect x="566" y="368.5" width="67" height="1.2" fill="#4a4640"/>
  <rect x="566" y="370" width="67" height="7.5" fill="#a29e98"/>
  <rect x="566" y="376.5" width="67" height="1.5" fill="#e0dcd6"/>
  <path d="M592,337 L597,333 L603,333 L608,337 L603,341 L597,341 Z" fill="#f0f0f0"/>
  <circle cx="600" cy="337" r="2.2" fill="#888"/>
  <rect x="593" y="345" width="14" height="7" fill="#cdb898"/>
  <rect x="596" y="347" width="8" height="3" fill="#8a6a40" opacity="0.6"/>
  <rect x="582" y="356" width="35" height="7" fill="#d2d0cc"/>
  <g fill="#2a2727">
    <rect x="576" y="302" width="6" height="10" rx="1.5"/>
    <rect x="596.5" y="302" width="6" height="10" rx="1.5"/>
    <rect x="616" y="302" width="6" height="10" rx="1.5"/>
    <rect x="577" y="310" width="4" height="16"/>
    <rect x="597.5" y="310" width="4" height="16"/>
    <rect x="617" y="310" width="4" height="16"/>
  </g>
  <g fill="#3a3636">
    <ellipse cx="579" cy="312.5" rx="5.5" ry="2"/><ellipse cx="579" cy="317.5" rx="6" ry="2"/><ellipse cx="579" cy="322.5" rx="6" ry="2.2"/>
    <ellipse cx="599.5" cy="312.5" rx="5.5" ry="2"/><ellipse cx="599.5" cy="317.5" rx="6" ry="2"/><ellipse cx="599.5" cy="322.5" rx="6" ry="2.2"/>
    <ellipse cx="619" cy="312.5" rx="5.5" ry="2"/><ellipse cx="619" cy="317.5" rx="6" ry="2"/><ellipse cx="619" cy="322.5" rx="6" ry="2.2"/>
  </g>
  <g fill="#6a6666"><rect x="577.5" y="303" width="1" height="7"/><rect x="598" y="303" width="1" height="7"/><rect x="617.5" y="303" width="1" height="7"/></g>
  <rect x="621" y="315" width="4" height="10" fill="#d8d8d8" opacity="0.8"/>
</g>

<!-- cabinet -->
<g id="cab">
  <linearGradient id="cabg" x1="0" y1="0" x2="1" y2="0"><stop offset="0" stop-color="#e4e4e4"/><stop offset="0.5" stop-color="#f0f0f0"/><stop offset="1" stop-color="#e2e2e2"/></linearGradient>
  <rect x="703" y="262" width="47.5" height="125" fill="url(#cabg)"/>
  <rect x="703" y="262" width="48" height="4" fill="#dc3a62"/>
  <rect x="706" y="263.5" width="4" height="0.6" fill="#f0b0c0"/><rect x="739" y="263.5" width="9" height="0.6" fill="#f0b0c0"/>
  <rect x="712" y="270" width="7" height="7.5" rx="0.5" fill="#262c3a"/>
  <rect x="734.3" y="270" width="7" height="7.5" rx="0.5" fill="#283050"/>
  <g><circle cx="708" cy="281" r="1.2" fill="#e0a020"/><circle cx="712" cy="281" r="1.2" fill="#209040"/><circle cx="715.6" cy="281" r="1.2" fill="#d02040"/><circle cx="719.5" cy="281" r="1.2" fill="#20a060"/><circle cx="723.3" cy="281" r="1.2" fill="#c02040"/>
  <circle cx="730" cy="281" r="1.2" fill="#e0a020"/><circle cx="734" cy="281" r="1.2" fill="#209040"/><circle cx="737.6" cy="281" r="1.2" fill="#d02040"/><circle cx="741.5" cy="281" r="1.2" fill="#40b0a0"/><circle cx="745.5" cy="281" r="1.2" fill="#e08090"/></g>
  <rect x="705" y="282.5" width="2" height="3" fill="#333"/>
  <rect x="704" y="285.5" width="3.5" height="2" fill="#d03030"/>
  <rect x="705" y="288.5" width="2" height="1.2" fill="#c03030"/>
  <rect x="714.9" y="291.8" width="4" height="4" fill="#1a48c0"/>
  <rect x="736" y="291.8" width="4" height="4" fill="#1a48c0"/>
  <rect x="703" y="301" width="47.5" height="1.2" fill="#b0b0b0"/>
  <rect x="709" y="308" width="35.7" height="20" rx="3" fill="#d8dadc" stroke="#8c8c8c" stroke-width="0.7"/>
  <g fill="#c4c6c8"><rect x="712" y="311" width="12" height="9"/><rect x="727" y="311" width="13" height="9"/></g><g fill="#e8eaec"><rect x="714" y="313" width="3" height="5"/><rect x="719" y="313" width="3" height="5"/><rect x="729" y="313" width="3" height="5"/><rect x="734" y="313" width="3" height="5"/></g>
  <g fill="#8a8c8e"><rect x="713" y="322.5" width="9" height="1.2"/><rect x="729" y="322.5" width="10" height="1.2"/></g>
  <rect x="703" y="333.8" width="47.5" height="1.2" fill="#b0b0b0"/>
  <rect x="705" y="340" width="1.3" height="3" fill="#777"/>
  <path d="M726.5,344.5 L731,353 L722,353 Z" fill="#f0c000"/>
  <path d="M726.2,347 L727.3,349 L725.8,349.5 L727,351.5" stroke="#333" stroke-width="0.5" fill="none"/>
  <rect x="723.6" y="360.5" width="6.4" height="4.5" fill="#3a3a3a"/><rect x="725" y="361.8" width="3.6" height="1.8" fill="#888"/>
  <rect x="705" y="358" width="1.6" height="4" fill="#333"/>
  <rect x="703" y="371.5" width="47.5" height="1.2" fill="#b0b0b0"/>
  <g fill="#c8c8c8"><rect x="710" y="376" width="34" height="0.6"/><rect x="710" y="378" width="34" height="0.6"/><rect x="710" y="380" width="34" height="0.6"/><rect x="710" y="382" width="34" height="0.6"/></g>
  <rect x="703" y="385.5" width="47.5" height="1.5" fill="#c8c8c8"/>
</g>

<!-- meters -->
<g id="meters">
  <linearGradient id="mg" x1="0" y1="0" x2="1" y2="0"><stop offset="0" stop-color="#d8d8d8"/><stop offset="0.3" stop-color="#ececec"/><stop offset="1" stop-color="#e4e4e4"/></linearGradient>
  <rect x="640" y="396.3" width="27" height="41" fill="url(#mg)"/>
  <path d="M667,396.8 L672,398 L672,436 L667,437.3 Z" fill="#c6c6c6"/>
  <rect x="644.3" y="402" width="13.4" height="14.8" rx="0.8" fill="#2a2a2a"/>
  <rect x="645.5" y="403.5" width="11" height="8.5" fill="#8cc4d8"/>
  <g fill="#555"><rect x="649.5" y="419.5" width="3" height="2"/><rect x="649.5" y="425" width="3" height="2"/><rect x="646.5" y="422.2" width="3" height="2"/><rect x="652.5" y="422.2" width="3" height="2"/><rect x="645.5" y="425.5" width="2" height="1.5"/><rect x="654.5" y="425.5" width="2" height="1.5"/></g>
  <rect x="644" y="433" width="14" height="0.6" fill="#999"/>
  <rect x="681" y="396" width="27" height="41.4" fill="url(#mg)"/>
  <path d="M708,396.5 L713,398 L713,436 L708,437.4 Z" fill="#c6c6c6"/>
  <rect x="685.4" y="401.6" width="17" height="17" rx="0.8" fill="#2a2a2a"/>
  <rect x="686.5" y="403" width="15" height="9.5" fill="#8cc4d8"/>
  <g fill="#444"><rect x="687" y="414.5" width="2" height="1.5"/><rect x="690" y="414.5" width="2" height="1.5"/><rect x="693" y="414.5" width="2" height="1.5"/><rect x="696" y="414.5" width="2" height="1.5"/><rect x="699" y="414.5" width="2" height="1.5"/></g>
  <g fill="#555"><rect x="692" y="420.5" width="3" height="2"/><rect x="692" y="426.5" width="3" height="2"/><rect x="689" y="423.5" width="3" height="2"/><rect x="695" y="423.5" width="3" height="2"/><rect x="688" y="427" width="2" height="1.5"/><rect x="697" y="427" width="2" height="1.5"/></g>
  <circle cx="688.2" cy="421.5" r="1.3" fill="#e03838"/><circle cx="698.8" cy="421.5" r="1.3" fill="#40c040"/>
  <rect x="685" y="433" width="15" height="0.6" fill="#999"/>
  <rect x="727.4" y="405" width="22.5" height="28" rx="1" fill="#3c4046"/>
  <path d="M749.5,406 L755,408 L755,431 L749.5,433 Z" fill="#26292c"/>
  <rect x="731" y="409.7" width="13.4" height="15.2" fill="#6e8a98"/>
  <g fill="#9cb4be"><rect x="732.5" y="412" width="10" height="1"/><rect x="732.5" y="416" width="10" height="1"/><rect x="732.5" y="420" width="10" height="1"/></g>
  <g fill="#f0a020"><rect x="730" y="427" width="2.5" height="1.6"/><rect x="734" y="427" width="2.5" height="1.6"/><rect x="738" y="427.5" width="2.5" height="1.6"/><rect x="742" y="428" width="2.5" height="1.6"/></g>
  <rect x="771.2" y="406" width="22.8" height="27" rx="1" fill="#3c4046"/>
  <path d="M794,407 L799,409 L799,431 L794,433 Z" fill="#26292c"/>
  <rect x="775.7" y="411.4" width="13.3" height="12.6" fill="#8a9ea8"/>
  <g fill="#b4c4cc"><rect x="777" y="413.5" width="10" height="1"/><rect x="777" y="417" width="10" height="1"/><rect x="777" y="420.5" width="10" height="1"/></g>
  <g fill="#f0a020"><rect x="774.5" y="427" width="3" height="1.6"/><rect x="778.5" y="427" width="3" height="1.6"/><rect x="782.5" y="427" width="3" height="1.6"/><rect x="787" y="428" width="3" height="1.6"/></g>
</g>
<g id="tower"><rect x="828" y="273" width="1" height="1" fill="rgb(107,117,127)"/><rect x="829" y="273" width="1" height="1" fill="rgb(111,121,131)"/><rect x="830" y="273" width="1" height="1" fill="rgb(162,172,182)"/><rect x="831" y="273" width="1" height="1" fill="rgb(119,129,139)"/><rect x="834" y="273" width="1" height="1" fill="rgb(84,94,104)"/><rect x="835" y="273" width="1" height="1" fill="rgb(140,150,160)"/><rect x="837" y="273" width="1" height="1" fill="rgb(89,99,109)"/><rect x="838" y="273" width="1" height="1" fill="rgb(147,157,167)"/><rect x="829" y="274" width="1" height="1" fill="rgb(93,103,113)"/><rect x="830" y="274" width="1" height="1" fill="rgb(99,109,119)"/><rect x="831" y="274" width="1" height="1" fill="rgb(167,177,187)"/><rect x="832" y="274" width="1" height="1" fill="rgb(169,179,189)"/><rect x="833" y="274" width="1" height="1" fill="rgb(138,148,158)"/><rect x="834" y="274" width="1" height="1" fill="rgb(85,95,105)"/><rect x="835" y="274" width="1" height="1" fill="rgb(96,106,116)"/><rect x="836" y="274" width="1" height="1" fill="rgb(84,94,104)"/><rect x="837" y="274" width="1" height="1" fill="rgb(118,128,138)"/><rect x="839" y="274" width="1" height="1" fill="rgb(147,157,167)"/><rect x="828" y="275" width="1" height="1" fill="rgb(169,179,189)"/><rect x="829" y="275" width="1" height="1" fill="rgb(92,102,112)"/><rect x="830" y="275" width="1" height="1" fill="rgb(147,157,167)"/><rect x="832" y="275" width="1" height="1" fill="rgb(113,123,133)"/><rect x="833" y="275" width="1" height="1" fill="rgb(156,166,176)"/><rect x="834" y="275" width="1" height="1" fill="rgb(148,158,168)"/><rect x="835" y="275" width="1" height="1" fill="rgb(138,148,158)"/><rect x="836" y="275" width="1" height="1" fill="rgb(120,130,140)"/><rect x="837" y="275" width="1" height="1" fill="rgb(111,121,131)"/><rect x="838" y="275" width="1" height="1" fill="rgb(110,120,130)"/><rect x="839" y="275" width="1" height="1" fill="rgb(83,93,103)"/><rect x="829" y="276" width="1" height="1" fill="rgb(119,129,139)"/><rect x="830" y="276" width="1" height="1" fill="rgb(104,114,124)"/><rect x="831" y="276" width="1" height="1" fill="rgb(166,176,186)"/><rect x="832" y="276" width="1" height="1" fill="rgb(90,100,110)"/><rect x="833" y="276" width="1" height="1" fill="rgb(165,175,185)"/><rect x="834" y="276" width="1" height="1" fill="rgb(127,137,147)"/><rect x="835" y="276" width="1" height="1" fill="rgb(84,94,104)"/><rect x="836" y="276" width="1" height="1" fill="rgb(133,143,153)"/><rect x="837" y="276" width="1" height="1" fill="rgb(130,140,150)"/><rect x="838" y="276" width="1" height="1" fill="rgb(117,127,137)"/><rect x="828" y="277" width="1" height="1" fill="rgb(144,154,164)"/><rect x="829" y="277" width="1" height="1" fill="rgb(143,153,163)"/><rect x="831" y="277" width="1" height="1" fill="rgb(104,114,124)"/><rect x="832" y="277" width="1" height="1" fill="rgb(108,118,128)"/><rect x="833" y="277" width="1" height="1" fill="rgb(117,127,137)"/><rect x="834" y="277" width="1" height="1" fill="rgb(159,169,179)"/><rect x="835" y="277" width="1" height="1" fill="rgb(103,113,123)"/><rect x="837" y="277" width="1" height="1" fill="rgb(165,175,185)"/><rect x="838" y="277" width="1" height="1" fill="rgb(156,166,176)"/><rect x="828" y="278" width="1" height="1" fill="rgb(130,140,150)"/><rect x="829" y="278" width="1" height="1" fill="rgb(83,93,103)"/><rect x="831" y="278" width="1" height="1" fill="rgb(86,96,106)"/><rect x="832" y="278" width="1" height="1" fill="rgb(103,113,123)"/><rect x="833" y="278" width="1" height="1" fill="rgb(120,130,140)"/><rect x="834" y="278" width="1" height="1" fill="rgb(90,100,110)"/><rect x="836" y="278" width="1" height="1" fill="rgb(103,113,123)"/><rect x="837" y="278" width="1" height="1" fill="rgb(147,157,167)"/><rect x="838" y="278" width="1" height="1" fill="rgb(84,94,104)"/><rect x="828" y="279" width="1" height="1" fill="rgb(128,138,148)"/><rect x="831" y="279" width="1" height="1" fill="rgb(93,103,113)"/><rect x="832" y="279" width="1" height="1" fill="rgb(115,125,135)"/><rect x="833" y="279" width="1" height="1" fill="rgb(133,143,153)"/><rect x="835" y="279" width="1" height="1" fill="rgb(106,116,126)"/><rect x="836" y="279" width="1" height="1" fill="rgb(119,129,139)"/><rect x="828" y="280" width="1" height="1" fill="rgb(86,96,106)"/><rect x="829" y="280" width="1" height="1" fill="rgb(105,115,125)"/><rect x="830" y="280" width="1" height="1" fill="rgb(137,147,157)"/><rect x="831" y="280" width="1" height="1" fill="rgb(126,136,146)"/><rect x="832" y="280" width="1" height="1" fill="rgb(140,150,160)"/><rect x="833" y="280" width="1" height="1" fill="rgb(132,142,152)"/><rect x="834" y="280" width="1" height="1" fill="rgb(160,170,180)"/><rect x="835" y="280" width="1" height="1" fill="rgb(85,95,105)"/><rect x="836" y="280" width="1" height="1" fill="rgb(139,149,159)"/><rect x="837" y="280" width="1" height="1" fill="rgb(87,97,107)"/><rect x="828" y="281" width="1" height="1" fill="rgb(88,98,108)"/><rect x="830" y="281" width="1" height="1" fill="rgb(114,124,134)"/><rect x="831" y="281" width="1" height="1" fill="rgb(158,168,178)"/><rect x="832" y="281" width="1" height="1" fill="rgb(168,178,188)"/><rect x="833" y="281" width="1" height="1" fill="rgb(115,125,135)"/><rect x="834" y="281" width="1" height="1" fill="rgb(156,166,176)"/><rect x="836" y="281" width="1" height="1" fill="rgb(88,98,108)"/><rect x="837" y="281" width="1" height="1" fill="rgb(109,119,129)"/><rect x="828" y="282" width="1" height="1" fill="rgb(139,149,159)"/><rect x="830" y="282" width="1" height="1" fill="rgb(112,122,132)"/><rect x="833" y="282" width="1" height="1" fill="rgb(143,153,163)"/><rect x="834" y="282" width="1" height="1" fill="rgb(118,128,138)"/><rect x="836" y="282" width="1" height="1" fill="rgb(157,167,177)"/><rect x="828" y="283" width="1" height="1" fill="rgb(120,130,140)"/><rect x="829" y="283" width="1" height="1" fill="rgb(156,166,176)"/><rect x="830" y="283" width="1" height="1" fill="rgb(105,115,125)"/><rect x="831" y="283" width="1" height="1" fill="rgb(100,110,120)"/><rect x="832" y="283" width="1" height="1" fill="rgb(88,98,108)"/><rect x="833" y="283" width="1" height="1" fill="rgb(141,151,161)"/><rect x="834" y="283" width="1" height="1" fill="rgb(121,131,141)"/><rect x="835" y="283" width="1" height="1" fill="rgb(134,144,154)"/><rect x="829" y="284" width="1" height="1" fill="rgb(90,100,110)"/><rect x="830" y="284" width="1" height="1" fill="rgb(133,143,153)"/><rect x="831" y="284" width="1" height="1" fill="rgb(170,180,190)"/><rect x="833" y="284" width="1" height="1" fill="rgb(97,107,117)"/><rect x="834" y="284" width="1" height="1" fill="rgb(159,169,179)"/><rect x="836" y="284" width="1" height="1" fill="rgb(148,158,168)"/><rect x="829" y="285" width="1" height="1" fill="rgb(95,105,115)"/><rect x="830" y="285" width="1" height="1" fill="rgb(117,127,137)"/><rect x="831" y="285" width="1" height="1" fill="rgb(152,162,172)"/><rect x="832" y="285" width="1" height="1" fill="rgb(112,122,132)"/><rect x="833" y="285" width="1" height="1" fill="rgb(105,115,125)"/><rect x="834" y="285" width="1" height="1" fill="rgb(103,113,123)"/><rect x="835" y="285" width="1" height="1" fill="rgb(99,109,119)"/><rect x="828" y="286" width="1" height="1" fill="rgb(154,164,174)"/><rect x="829" y="286" width="1" height="1" fill="rgb(88,98,108)"/><rect x="830" y="286" width="1" height="1" fill="rgb(111,121,131)"/><rect x="831" y="286" width="1" height="1" fill="rgb(109,119,129)"/><rect x="832" y="286" width="1" height="1" fill="rgb(92,102,112)"/><rect x="833" y="286" width="1" height="1" fill="rgb(84,94,104)"/><rect x="834" y="286" width="1" height="1" fill="rgb(140,150,160)"/><rect x="828" y="287" width="1" height="1" fill="rgb(137,147,157)"/><rect x="830" y="287" width="1" height="1" fill="rgb(117,127,137)"/><rect x="831" y="287" width="1" height="1" fill="rgb(86,96,106)"/><rect x="832" y="287" width="1" height="1" fill="rgb(154,164,174)"/><rect x="833" y="287" width="1" height="1" fill="rgb(89,99,109)"/><rect x="834" y="287" width="1" height="1" fill="rgb(102,112,122)"/><rect x="835" y="287" width="1" height="1" fill="rgb(113,123,133)"/><rect x="828" y="288" width="1" height="1" fill="rgb(165,175,185)"/><rect x="830" y="288" width="1" height="1" fill="rgb(156,166,176)"/><rect x="831" y="288" width="1" height="1" fill="rgb(124,134,144)"/><rect x="832" y="288" width="1" height="1" fill="rgb(127,137,147)"/><rect x="833" y="288" width="1" height="1" fill="rgb(85,95,105)"/><rect x="834" y="288" width="1" height="1" fill="rgb(112,122,132)"/><rect x="828" y="289" width="1" height="1" fill="rgb(163,173,183)"/><rect x="832" y="289" width="1" height="1" fill="rgb(127,137,147)"/><rect x="833" y="289" width="1" height="1" fill="rgb(119,129,139)"/><rect x="834" y="289" width="1" height="1" fill="rgb(84,94,104)"/><rect x="828" y="290" width="1" height="1" fill="rgb(150,160,170)"/><rect x="829" y="290" width="1" height="1" fill="rgb(132,142,152)"/><rect x="830" y="290" width="1" height="1" fill="rgb(130,140,150)"/><rect x="831" y="290" width="1" height="1" fill="rgb(99,109,119)"/><rect x="832" y="290" width="1" height="1" fill="rgb(91,101,111)"/><rect x="833" y="290" width="1" height="1" fill="rgb(130,140,150)"/><rect x="834" y="290" width="1" height="1" fill="rgb(132,142,152)"/><rect x="829" y="291" width="1" height="1" fill="rgb(133,143,153)"/><rect x="831" y="291" width="1" height="1" fill="rgb(152,162,172)"/><rect x="833" y="291" width="1" height="1" fill="rgb(82,92,102)"/><rect x="830" y="292" width="1" height="1" fill="rgb(105,115,125)"/><rect x="831" y="292" width="1" height="1" fill="rgb(131,141,151)"/><rect x="832" y="292" width="1" height="1" fill="rgb(80,90,100)"/><rect x="833" y="292" width="1" height="1" fill="rgb(100,110,120)"/><rect x="828" y="293" width="1" height="1" fill="rgb(91,101,111)"/><rect x="829" y="293" width="1" height="1" fill="rgb(126,136,146)"/><rect x="830" y="293" width="1" height="1" fill="rgb(100,110,120)"/><rect x="831" y="293" width="1" height="1" fill="rgb(86,96,106)"/><rect x="832" y="293" width="1" height="1" fill="rgb(162,172,182)"/><rect x="829" y="294" width="1" height="1" fill="rgb(153,163,173)"/><rect x="830" y="294" width="1" height="1" fill="rgb(127,137,147)"/><rect x="831" y="294" width="1" height="1" fill="rgb(101,111,121)"/><rect x="832" y="294" width="1" height="1" fill="rgb(116,126,136)"/><rect x="828" y="295" width="1" height="1" fill="rgb(101,111,121)"/><rect x="830" y="295" width="1" height="1" fill="rgb(142,152,162)"/><rect x="831" y="295" width="1" height="1" fill="rgb(105,115,125)"/><rect x="832" y="295" width="1" height="1" fill="rgb(85,95,105)"/><rect x="829" y="296" width="1" height="1" fill="rgb(86,96,106)"/><rect x="830" y="296" width="1" height="1" fill="rgb(161,171,181)"/><rect x="831" y="296" width="1" height="1" fill="rgb(159,169,179)"/><rect x="828" y="297" width="1" height="1" fill="rgb(100,110,120)"/><rect x="829" y="297" width="1" height="1" fill="rgb(108,118,128)"/><rect x="830" y="297" width="1" height="1" fill="rgb(158,168,178)"/><rect x="829" y="298" width="1" height="1" fill="rgb(107,117,127)"/><rect x="830" y="298" width="1" height="1" fill="rgb(146,156,166)"/><rect x="831" y="298" width="1" height="1" fill="rgb(125,135,145)"/><rect x="828" y="299" width="1" height="1" fill="rgb(111,121,131)"/><rect x="828" y="300" width="1" height="1" fill="rgb(151,161,171)"/><rect x="830" y="300" width="1" height="1" fill="rgb(165,175,185)"/><rect x="829" y="301" width="1" height="1" fill="rgb(156,166,176)"/><rect x="830" y="301" width="1" height="1" fill="rgb(160,170,180)"/><rect x="828" y="302" width="1" height="1" fill="rgb(163,173,183)"/><rect x="829" y="302" width="1" height="1" fill="rgb(154,164,174)"/><rect x="828" y="365" width="1" height="1" fill="rgb(124,134,144)"/><rect x="829" y="365" width="1" height="1" fill="rgb(132,142,152)"/><rect x="830" y="365" width="1" height="1" fill="rgb(97,107,117)"/><rect x="831" y="365" width="1" height="1" fill="rgb(154,164,174)"/><rect x="833" y="365" width="1" height="1" fill="rgb(132,142,152)"/><rect x="834" y="365" width="1" height="1" fill="rgb(133,143,153)"/><rect x="837" y="365" width="1" height="1" fill="rgb(83,93,103)"/><rect x="838" y="365" width="1" height="1" fill="rgb(130,140,150)"/><rect x="839" y="365" width="1" height="1" fill="rgb(131,141,151)"/><rect x="840" y="365" width="1" height="1" fill="rgb(159,169,179)"/><rect x="828" y="366" width="1" height="1" fill="rgb(156,166,176)"/><rect x="829" y="366" width="1" height="1" fill="rgb(115,125,135)"/><rect x="830" y="366" width="1" height="1" fill="rgb(140,150,160)"/><rect x="831" y="366" width="1" height="1" fill="rgb(139,149,159)"/><rect x="833" y="366" width="1" height="1" fill="rgb(92,102,112)"/><rect x="834" y="366" width="1" height="1" fill="rgb(83,93,103)"/><rect x="836" y="366" width="1" height="1" fill="rgb(89,99,109)"/><rect x="837" y="366" width="1" height="1" fill="rgb(137,147,157)"/><rect x="838" y="366" width="1" height="1" fill="rgb(96,106,116)"/><rect x="839" y="366" width="1" height="1" fill="rgb(103,113,123)"/><rect x="840" y="366" width="1" height="1" fill="rgb(119,129,139)"/><rect x="828" y="367" width="1" height="1" fill="rgb(107,117,127)"/><rect x="829" y="367" width="1" height="1" fill="rgb(153,163,173)"/><rect x="830" y="367" width="1" height="1" fill="rgb(133,143,153)"/><rect x="831" y="367" width="1" height="1" fill="rgb(139,149,159)"/><rect x="833" y="367" width="1" height="1" fill="rgb(150,160,170)"/><rect x="834" y="367" width="1" height="1" fill="rgb(139,149,159)"/><rect x="835" y="367" width="1" height="1" fill="rgb(122,132,142)"/><rect x="836" y="367" width="1" height="1" fill="rgb(98,108,118)"/><rect x="837" y="367" width="1" height="1" fill="rgb(156,166,176)"/><rect x="839" y="367" width="1" height="1" fill="rgb(123,133,143)"/><rect x="840" y="367" width="1" height="1" fill="rgb(108,118,128)"/><rect x="828" y="368" width="1" height="1" fill="rgb(142,152,162)"/><rect x="829" y="368" width="1" height="1" fill="rgb(121,131,141)"/><rect x="831" y="368" width="1" height="1" fill="rgb(141,151,161)"/><rect x="832" y="368" width="1" height="1" fill="rgb(88,98,108)"/><rect x="833" y="368" width="1" height="1" fill="rgb(143,153,163)"/><rect x="834" y="368" width="1" height="1" fill="rgb(125,135,145)"/><rect x="835" y="368" width="1" height="1" fill="rgb(122,132,142)"/><rect x="836" y="368" width="1" height="1" fill="rgb(122,132,142)"/><rect x="837" y="368" width="1" height="1" fill="rgb(121,131,141)"/><rect x="838" y="368" width="1" height="1" fill="rgb(85,95,105)"/><rect x="839" y="368" width="1" height="1" fill="rgb(97,107,117)"/><rect x="840" y="368" width="1" height="1" fill="rgb(81,91,101)"/><rect x="828" y="369" width="1" height="1" fill="rgb(141,151,161)"/><rect x="829" y="369" width="1" height="1" fill="rgb(156,166,176)"/><rect x="834" y="369" width="1" height="1" fill="rgb(79,89,99)"/><rect x="835" y="369" width="1" height="1" fill="rgb(112,122,132)"/><rect x="836" y="369" width="1" height="1" fill="rgb(130,140,150)"/><rect x="837" y="369" width="1" height="1" fill="rgb(121,131,141)"/><rect x="839" y="369" width="1" height="1" fill="rgb(104,114,124)"/><rect x="840" y="369" width="1" height="1" fill="rgb(80,90,100)"/><rect x="828" y="370" width="1" height="1" fill="rgb(75,85,95)"/><rect x="829" y="370" width="1" height="1" fill="rgb(113,123,133)"/><rect x="830" y="370" width="1" height="1" fill="rgb(120,130,140)"/><rect x="831" y="370" width="1" height="1" fill="rgb(127,137,147)"/><rect x="832" y="370" width="1" height="1" fill="rgb(150,160,170)"/><rect x="833" y="370" width="1" height="1" fill="rgb(121,131,141)"/><rect x="834" y="370" width="1" height="1" fill="rgb(135,145,155)"/><rect x="835" y="370" width="1" height="1" fill="rgb(76,86,96)"/><rect x="837" y="370" width="1" height="1" fill="rgb(94,104,114)"/><rect x="838" y="370" width="1" height="1" fill="rgb(83,93,103)"/><rect x="839" y="370" width="1" height="1" fill="rgb(160,170,180)"/><rect x="840" y="370" width="1" height="1" fill="rgb(126,136,146)"/><rect x="830" y="371" width="1" height="1" fill="rgb(146,156,166)"/><rect x="832" y="371" width="1" height="1" fill="rgb(149,159,169)"/><rect x="833" y="371" width="1" height="1" fill="rgb(141,151,161)"/><rect x="834" y="371" width="1" height="1" fill="rgb(106,116,126)"/><rect x="835" y="371" width="1" height="1" fill="rgb(75,85,95)"/><rect x="836" y="371" width="1" height="1" fill="rgb(143,153,163)"/><rect x="837" y="371" width="1" height="1" fill="rgb(98,108,118)"/><rect x="838" y="371" width="1" height="1" fill="rgb(82,92,102)"/><rect x="840" y="371" width="1" height="1" fill="rgb(153,163,173)"/><rect x="828" y="372" width="1" height="1" fill="rgb(100,110,120)"/><rect x="829" y="372" width="1" height="1" fill="rgb(100,110,120)"/><rect x="830" y="372" width="1" height="1" fill="rgb(157,167,177)"/><rect x="831" y="372" width="1" height="1" fill="rgb(157,167,177)"/><rect x="832" y="372" width="1" height="1" fill="rgb(153,163,173)"/><rect x="833" y="372" width="1" height="1" fill="rgb(114,124,134)"/><rect x="834" y="372" width="1" height="1" fill="rgb(155,165,175)"/><rect x="835" y="372" width="1" height="1" fill="rgb(136,146,156)"/><rect x="836" y="372" width="1" height="1" fill="rgb(75,85,95)"/><rect x="837" y="372" width="1" height="1" fill="rgb(130,140,150)"/><rect x="838" y="372" width="1" height="1" fill="rgb(134,144,154)"/><rect x="839" y="372" width="1" height="1" fill="rgb(158,168,178)"/><rect x="840" y="372" width="1" height="1" fill="rgb(103,113,123)"/><rect x="829" y="373" width="1" height="1" fill="rgb(157,167,177)"/><rect x="830" y="373" width="1" height="1" fill="rgb(117,127,137)"/><rect x="834" y="373" width="1" height="1" fill="rgb(81,91,101)"/><rect x="835" y="373" width="1" height="1" fill="rgb(145,155,165)"/><rect x="836" y="373" width="1" height="1" fill="rgb(162,172,182)"/><rect x="837" y="373" width="1" height="1" fill="rgb(141,151,161)"/><rect x="839" y="373" width="1" height="1" fill="rgb(102,112,122)"/><rect x="840" y="373" width="1" height="1" fill="rgb(139,149,159)"/><rect x="828" y="374" width="1" height="1" fill="rgb(108,118,128)"/><rect x="831" y="374" width="1" height="1" fill="rgb(95,105,115)"/><rect x="832" y="374" width="1" height="1" fill="rgb(116,126,136)"/><rect x="833" y="374" width="1" height="1" fill="rgb(124,134,144)"/><rect x="834" y="374" width="1" height="1" fill="rgb(105,115,125)"/><rect x="835" y="374" width="1" height="1" fill="rgb(155,165,175)"/><rect x="839" y="374" width="1" height="1" fill="rgb(135,145,155)"/><rect x="828" y="375" width="1" height="1" fill="rgb(78,88,98)"/><rect x="829" y="375" width="1" height="1" fill="rgb(104,114,124)"/><rect x="830" y="375" width="1" height="1" fill="rgb(114,124,134)"/><rect x="831" y="375" width="1" height="1" fill="rgb(125,135,145)"/><rect x="832" y="375" width="1" height="1" fill="rgb(84,94,104)"/><rect x="833" y="375" width="1" height="1" fill="rgb(96,106,116)"/><rect x="834" y="375" width="1" height="1" fill="rgb(78,88,98)"/><rect x="835" y="375" width="1" height="1" fill="rgb(154,164,174)"/><rect x="837" y="375" width="1" height="1" fill="rgb(93,103,113)"/><rect x="838" y="375" width="1" height="1" fill="rgb(78,88,98)"/><rect x="839" y="375" width="1" height="1" fill="rgb(163,173,183)"/><rect x="840" y="375" width="1" height="1" fill="rgb(80,90,100)"/><rect x="828" y="376" width="1" height="1" fill="rgb(80,90,100)"/><rect x="829" y="376" width="1" height="1" fill="rgb(150,160,170)"/><rect x="830" y="376" width="1" height="1" fill="rgb(100,110,120)"/><rect x="834" y="376" width="1" height="1" fill="rgb(124,134,144)"/><rect x="835" y="376" width="1" height="1" fill="rgb(101,111,121)"/><rect x="836" y="376" width="1" height="1" fill="rgb(79,89,99)"/><rect x="837" y="376" width="1" height="1" fill="rgb(156,166,176)"/><rect x="838" y="376" width="1" height="1" fill="rgb(155,165,175)"/><rect x="839" y="376" width="1" height="1" fill="rgb(136,146,156)"/><rect x="840" y="376" width="1" height="1" fill="rgb(87,97,107)"/><rect x="828" y="377" width="1" height="1" fill="rgb(157,167,177)"/><rect x="829" y="377" width="1" height="1" fill="rgb(115,125,135)"/><rect x="830" y="377" width="1" height="1" fill="rgb(108,118,128)"/><rect x="831" y="377" width="1" height="1" fill="rgb(107,117,127)"/><rect x="833" y="377" width="1" height="1" fill="rgb(122,132,142)"/><rect x="835" y="377" width="1" height="1" fill="rgb(152,162,172)"/><rect x="836" y="377" width="1" height="1" fill="rgb(111,121,131)"/><rect x="837" y="377" width="1" height="1" fill="rgb(78,88,98)"/><rect x="838" y="377" width="1" height="1" fill="rgb(78,88,98)"/><rect x="839" y="377" width="1" height="1" fill="rgb(87,97,107)"/><rect x="840" y="377" width="1" height="1" fill="rgb(165,175,185)"/><rect x="828" y="378" width="1" height="1" fill="rgb(147,157,167)"/><rect x="829" y="378" width="1" height="1" fill="rgb(86,96,106)"/><rect x="830" y="378" width="1" height="1" fill="rgb(111,121,131)"/><rect x="831" y="378" width="1" height="1" fill="rgb(75,85,95)"/><rect x="832" y="378" width="1" height="1" fill="rgb(111,121,131)"/><rect x="833" y="378" width="1" height="1" fill="rgb(81,91,101)"/><rect x="834" y="378" width="1" height="1" fill="rgb(137,147,157)"/><rect x="835" y="378" width="1" height="1" fill="rgb(163,173,183)"/><rect x="836" y="378" width="1" height="1" fill="rgb(98,108,118)"/><rect x="838" y="378" width="1" height="1" fill="rgb(140,150,160)"/><rect x="839" y="378" width="1" height="1" fill="rgb(95,105,115)"/><rect x="840" y="378" width="1" height="1" fill="rgb(102,112,122)"/><rect x="829" y="379" width="1" height="1" fill="rgb(96,106,116)"/><rect x="830" y="379" width="1" height="1" fill="rgb(156,166,176)"/><rect x="831" y="379" width="1" height="1" fill="rgb(137,147,157)"/><rect x="832" y="379" width="1" height="1" fill="rgb(164,174,184)"/><rect x="833" y="379" width="1" height="1" fill="rgb(88,98,108)"/><rect x="834" y="379" width="1" height="1" fill="rgb(120,130,140)"/><rect x="835" y="379" width="1" height="1" fill="rgb(125,135,145)"/><rect x="837" y="379" width="1" height="1" fill="rgb(129,139,149)"/><rect x="839" y="379" width="1" height="1" fill="rgb(101,111,121)"/><rect x="840" y="379" width="1" height="1" fill="rgb(129,139,149)"/><rect x="829" y="380" width="1" height="1" fill="rgb(123,133,143)"/><rect x="831" y="380" width="1" height="1" fill="rgb(133,143,153)"/><rect x="832" y="380" width="1" height="1" fill="rgb(151,161,171)"/><rect x="833" y="380" width="1" height="1" fill="rgb(152,162,172)"/><rect x="834" y="380" width="1" height="1" fill="rgb(119,129,139)"/><rect x="835" y="380" width="1" height="1" fill="rgb(141,151,161)"/><rect x="836" y="380" width="1" height="1" fill="rgb(132,142,152)"/><rect x="837" y="380" width="1" height="1" fill="rgb(116,126,136)"/><rect x="838" y="380" width="1" height="1" fill="rgb(131,141,151)"/><rect x="839" y="380" width="1" height="1" fill="rgb(107,117,127)"/><rect x="840" y="380" width="1" height="1" fill="rgb(91,101,111)"/><rect x="828" y="381" width="1" height="1" fill="rgb(157,167,177)"/><rect x="830" y="381" width="1" height="1" fill="rgb(99,109,119)"/><rect x="831" y="381" width="1" height="1" fill="rgb(165,175,185)"/><rect x="833" y="381" width="1" height="1" fill="rgb(94,104,114)"/><rect x="835" y="381" width="1" height="1" fill="rgb(152,162,172)"/><rect x="836" y="381" width="1" height="1" fill="rgb(95,105,115)"/><rect x="837" y="381" width="1" height="1" fill="rgb(99,109,119)"/><rect x="838" y="381" width="1" height="1" fill="rgb(88,98,108)"/><rect x="839" y="381" width="1" height="1" fill="rgb(159,169,179)"/><rect x="840" y="381" width="1" height="1" fill="rgb(124,134,144)"/><rect x="828" y="382" width="1" height="1" fill="rgb(93,103,113)"/><rect x="829" y="382" width="1" height="1" fill="rgb(113,123,133)"/><rect x="830" y="382" width="1" height="1" fill="rgb(100,110,120)"/><rect x="831" y="382" width="1" height="1" fill="rgb(88,98,108)"/><rect x="832" y="382" width="1" height="1" fill="rgb(124,134,144)"/><rect x="833" y="382" width="1" height="1" fill="rgb(76,86,96)"/><rect x="834" y="382" width="1" height="1" fill="rgb(130,140,150)"/><rect x="835" y="382" width="1" height="1" fill="rgb(139,149,159)"/><rect x="837" y="382" width="1" height="1" fill="rgb(77,87,97)"/><rect x="838" y="382" width="1" height="1" fill="rgb(152,162,172)"/><rect x="839" y="382" width="1" height="1" fill="rgb(75,85,95)"/><rect x="840" y="382" width="1" height="1" fill="rgb(130,140,150)"/><rect x="828" y="383" width="1" height="1" fill="rgb(150,160,170)"/><rect x="829" y="383" width="1" height="1" fill="rgb(128,138,148)"/><rect x="831" y="383" width="1" height="1" fill="rgb(158,168,178)"/><rect x="833" y="383" width="1" height="1" fill="rgb(164,174,184)"/><rect x="834" y="383" width="1" height="1" fill="rgb(104,114,124)"/><rect x="835" y="383" width="1" height="1" fill="rgb(157,167,177)"/><rect x="836" y="383" width="1" height="1" fill="rgb(130,140,150)"/><rect x="837" y="383" width="1" height="1" fill="rgb(155,165,175)"/><rect x="838" y="383" width="1" height="1" fill="rgb(128,138,148)"/><rect x="839" y="383" width="1" height="1" fill="rgb(126,136,146)"/><rect x="840" y="383" width="1" height="1" fill="rgb(155,165,175)"/><rect x="828" y="384" width="1" height="1" fill="rgb(129,139,149)"/><rect x="829" y="384" width="1" height="1" fill="rgb(77,87,97)"/><rect x="830" y="384" width="1" height="1" fill="rgb(127,137,147)"/><rect x="831" y="384" width="1" height="1" fill="rgb(159,169,179)"/><rect x="833" y="384" width="1" height="1" fill="rgb(158,168,178)"/><rect x="834" y="384" width="1" height="1" fill="rgb(76,86,96)"/><rect x="835" y="384" width="1" height="1" fill="rgb(137,147,157)"/><rect x="837" y="384" width="1" height="1" fill="rgb(107,117,127)"/><rect x="838" y="384" width="1" height="1" fill="rgb(95,105,115)"/><rect x="839" y="384" width="1" height="1" fill="rgb(100,110,120)"/><rect x="840" y="384" width="1" height="1" fill="rgb(87,97,107)"/><rect x="829" y="385" width="1" height="1" fill="rgb(101,111,121)"/><rect x="830" y="385" width="1" height="1" fill="rgb(140,150,160)"/><rect x="831" y="385" width="1" height="1" fill="rgb(122,132,142)"/><rect x="832" y="385" width="1" height="1" fill="rgb(127,137,147)"/><rect x="833" y="385" width="1" height="1" fill="rgb(133,143,153)"/><rect x="834" y="385" width="1" height="1" fill="rgb(162,172,182)"/><rect x="835" y="385" width="1" height="1" fill="rgb(140,150,160)"/><rect x="836" y="385" width="1" height="1" fill="rgb(90,100,110)"/><rect x="837" y="385" width="1" height="1" fill="rgb(153,163,173)"/><rect x="838" y="385" width="1" height="1" fill="rgb(82,92,102)"/><rect x="839" y="385" width="1" height="1" fill="rgb(123,133,143)"/><rect x="840" y="385" width="1" height="1" fill="rgb(76,86,96)"/><rect x="828" y="386" width="1" height="1" fill="rgb(128,138,148)"/><rect x="829" y="386" width="1" height="1" fill="rgb(161,171,181)"/><rect x="830" y="386" width="1" height="1" fill="rgb(108,118,128)"/><rect x="831" y="386" width="1" height="1" fill="rgb(113,123,133)"/><rect x="832" y="386" width="1" height="1" fill="rgb(142,152,162)"/><rect x="836" y="386" width="1" height="1" fill="rgb(96,106,116)"/><rect x="837" y="386" width="1" height="1" fill="rgb(83,93,103)"/><rect x="839" y="386" width="1" height="1" fill="rgb(135,145,155)"/><rect x="840" y="386" width="1" height="1" fill="rgb(103,113,123)"/><rect x="829" y="387" width="1" height="1" fill="rgb(160,170,180)"/><rect x="830" y="387" width="1" height="1" fill="rgb(127,137,147)"/><rect x="831" y="387" width="1" height="1" fill="rgb(112,122,132)"/><rect x="832" y="387" width="1" height="1" fill="rgb(158,168,178)"/><rect x="833" y="387" width="1" height="1" fill="rgb(135,145,155)"/><rect x="834" y="387" width="1" height="1" fill="rgb(104,114,124)"/><rect x="835" y="387" width="1" height="1" fill="rgb(123,133,143)"/><rect x="836" y="387" width="1" height="1" fill="rgb(129,139,149)"/><rect x="837" y="387" width="1" height="1" fill="rgb(136,146,156)"/><rect x="838" y="387" width="1" height="1" fill="rgb(110,120,130)"/><rect x="839" y="387" width="1" height="1" fill="rgb(158,168,178)"/><rect x="840" y="387" width="1" height="1" fill="rgb(136,146,156)"/><rect x="828" y="388" width="1" height="1" fill="rgb(154,164,174)"/><rect x="829" y="388" width="1" height="1" fill="rgb(159,169,179)"/><rect x="831" y="388" width="1" height="1" fill="rgb(113,123,133)"/><rect x="833" y="388" width="1" height="1" fill="rgb(147,157,167)"/><rect x="835" y="388" width="1" height="1" fill="rgb(92,102,112)"/><rect x="836" y="388" width="1" height="1" fill="rgb(119,129,139)"/><rect x="837" y="388" width="1" height="1" fill="rgb(76,86,96)"/><rect x="838" y="388" width="1" height="1" fill="rgb(101,111,121)"/><rect x="840" y="388" width="1" height="1" fill="rgb(107,117,127)"/><rect x="828" y="389" width="1" height="1" fill="rgb(149,159,169)"/><rect x="829" y="389" width="1" height="1" fill="rgb(104,114,124)"/><rect x="830" y="389" width="1" height="1" fill="rgb(132,142,152)"/><rect x="831" y="389" width="1" height="1" fill="rgb(94,104,114)"/><rect x="832" y="389" width="1" height="1" fill="rgb(126,136,146)"/><rect x="833" y="389" width="1" height="1" fill="rgb(96,106,116)"/><rect x="834" y="389" width="1" height="1" fill="rgb(163,173,183)"/><rect x="835" y="389" width="1" height="1" fill="rgb(86,96,106)"/><rect x="836" y="389" width="1" height="1" fill="rgb(145,155,165)"/><rect x="837" y="389" width="1" height="1" fill="rgb(113,123,133)"/><rect x="838" y="389" width="1" height="1" fill="rgb(163,173,183)"/><rect x="839" y="389" width="1" height="1" fill="rgb(85,95,105)"/><rect x="840" y="389" width="1" height="1" fill="rgb(131,141,151)"/><rect x="828" y="390" width="1" height="1" fill="rgb(89,99,109)"/><rect x="829" y="390" width="1" height="1" fill="rgb(108,118,128)"/><rect x="830" y="390" width="1" height="1" fill="rgb(92,102,112)"/><rect x="831" y="390" width="1" height="1" fill="rgb(146,156,166)"/><rect x="832" y="390" width="1" height="1" fill="rgb(134,144,154)"/><rect x="834" y="390" width="1" height="1" fill="rgb(106,116,126)"/><rect x="835" y="390" width="1" height="1" fill="rgb(144,154,164)"/><rect x="836" y="390" width="1" height="1" fill="rgb(75,85,95)"/><rect x="837" y="390" width="1" height="1" fill="rgb(116,126,136)"/><rect x="838" y="390" width="1" height="1" fill="rgb(147,157,167)"/><rect x="839" y="390" width="1" height="1" fill="rgb(112,122,132)"/><rect x="828" y="391" width="1" height="1" fill="rgb(128,138,148)"/><rect x="830" y="391" width="1" height="1" fill="rgb(98,108,118)"/><rect x="831" y="391" width="1" height="1" fill="rgb(156,166,176)"/><rect x="832" y="391" width="1" height="1" fill="rgb(77,87,97)"/><rect x="833" y="391" width="1" height="1" fill="rgb(162,172,182)"/><rect x="834" y="391" width="1" height="1" fill="rgb(117,127,137)"/><rect x="836" y="391" width="1" height="1" fill="rgb(136,146,156)"/><rect x="837" y="391" width="1" height="1" fill="rgb(93,103,113)"/><rect x="838" y="391" width="1" height="1" fill="rgb(128,138,148)"/><rect x="839" y="391" width="1" height="1" fill="rgb(118,128,138)"/><rect x="840" y="391" width="1" height="1" fill="rgb(159,169,179)"/><rect x="828" y="392" width="1" height="1" fill="rgb(135,145,155)"/><rect x="829" y="392" width="1" height="1" fill="rgb(145,155,165)"/><rect x="830" y="392" width="1" height="1" fill="rgb(101,111,121)"/><rect x="831" y="392" width="1" height="1" fill="rgb(118,128,138)"/><rect x="832" y="392" width="1" height="1" fill="rgb(145,155,165)"/><rect x="833" y="392" width="1" height="1" fill="rgb(112,122,132)"/><rect x="834" y="392" width="1" height="1" fill="rgb(138,148,158)"/><rect x="835" y="392" width="1" height="1" fill="rgb(139,149,159)"/><rect x="838" y="392" width="1" height="1" fill="rgb(101,111,121)"/><rect x="839" y="392" width="1" height="1" fill="rgb(90,100,110)"/><rect x="840" y="392" width="1" height="1" fill="rgb(115,125,135)"/><rect x="828" y="393" width="1" height="1" fill="rgb(91,101,111)"/><rect x="829" y="393" width="1" height="1" fill="rgb(156,166,176)"/><rect x="830" y="393" width="1" height="1" fill="rgb(80,90,100)"/><rect x="831" y="393" width="1" height="1" fill="rgb(145,155,165)"/><rect x="833" y="393" width="1" height="1" fill="rgb(81,91,101)"/><rect x="834" y="393" width="1" height="1" fill="rgb(88,98,108)"/><rect x="835" y="393" width="1" height="1" fill="rgb(99,109,119)"/><rect x="837" y="393" width="1" height="1" fill="rgb(159,169,179)"/><rect x="838" y="393" width="1" height="1" fill="rgb(139,149,159)"/><rect x="840" y="393" width="1" height="1" fill="rgb(153,163,173)"/><rect x="828" y="394" width="1" height="1" fill="rgb(161,171,181)"/><rect x="829" y="394" width="1" height="1" fill="rgb(151,161,171)"/><rect x="831" y="394" width="1" height="1" fill="rgb(80,90,100)"/><rect x="832" y="394" width="1" height="1" fill="rgb(133,143,153)"/><rect x="833" y="394" width="1" height="1" fill="rgb(97,107,117)"/><rect x="834" y="394" width="1" height="1" fill="rgb(98,108,118)"/><rect x="836" y="394" width="1" height="1" fill="rgb(87,97,107)"/><rect x="838" y="394" width="1" height="1" fill="rgb(122,132,142)"/><rect x="840" y="394" width="1" height="1" fill="rgb(114,124,134)"/><rect x="828" y="395" width="1" height="1" fill="rgb(108,118,128)"/><rect x="830" y="395" width="1" height="1" fill="rgb(79,89,99)"/><rect x="831" y="395" width="1" height="1" fill="rgb(130,140,150)"/><rect x="832" y="395" width="1" height="1" fill="rgb(149,159,169)"/><rect x="834" y="395" width="1" height="1" fill="rgb(147,157,167)"/><rect x="835" y="395" width="1" height="1" fill="rgb(90,100,110)"/><rect x="836" y="395" width="1" height="1" fill="rgb(128,138,148)"/><rect x="837" y="395" width="1" height="1" fill="rgb(126,136,146)"/><rect x="838" y="395" width="1" height="1" fill="rgb(76,86,96)"/><rect x="839" y="395" width="1" height="1" fill="rgb(151,161,171)"/><rect x="840" y="395" width="1" height="1" fill="rgb(159,169,179)"/><rect x="829" y="396" width="1" height="1" fill="rgb(127,137,147)"/><rect x="830" y="396" width="1" height="1" fill="rgb(85,95,105)"/><rect x="831" y="396" width="1" height="1" fill="rgb(102,112,122)"/><rect x="833" y="396" width="1" height="1" fill="rgb(129,139,149)"/><rect x="834" y="396" width="1" height="1" fill="rgb(162,172,182)"/><rect x="835" y="396" width="1" height="1" fill="rgb(86,96,106)"/><rect x="836" y="396" width="1" height="1" fill="rgb(90,100,110)"/><rect x="837" y="396" width="1" height="1" fill="rgb(77,87,97)"/><rect x="838" y="396" width="1" height="1" fill="rgb(147,157,167)"/><rect x="839" y="396" width="1" height="1" fill="rgb(98,108,118)"/><rect x="828" y="397" width="1" height="1" fill="rgb(163,173,183)"/><rect x="830" y="397" width="1" height="1" fill="rgb(85,95,105)"/><rect x="831" y="397" width="1" height="1" fill="rgb(146,156,166)"/><rect x="832" y="397" width="1" height="1" fill="rgb(133,143,153)"/><rect x="833" y="397" width="1" height="1" fill="rgb(107,117,127)"/><rect x="835" y="397" width="1" height="1" fill="rgb(79,89,99)"/><rect x="836" y="397" width="1" height="1" fill="rgb(76,86,96)"/><rect x="838" y="397" width="1" height="1" fill="rgb(154,164,174)"/><rect x="839" y="397" width="1" height="1" fill="rgb(114,124,134)"/><rect x="840" y="397" width="1" height="1" fill="rgb(151,161,171)"/><rect x="828" y="398" width="1" height="1" fill="rgb(137,147,157)"/><rect x="829" y="398" width="1" height="1" fill="rgb(115,125,135)"/><rect x="830" y="398" width="1" height="1" fill="rgb(148,158,168)"/><rect x="831" y="398" width="1" height="1" fill="rgb(135,145,155)"/><rect x="832" y="398" width="1" height="1" fill="rgb(93,103,113)"/><rect x="834" y="398" width="1" height="1" fill="rgb(157,167,177)"/><rect x="835" y="398" width="1" height="1" fill="rgb(128,138,148)"/><rect x="836" y="398" width="1" height="1" fill="rgb(132,142,152)"/><rect x="838" y="398" width="1" height="1" fill="rgb(147,157,167)"/><rect x="839" y="398" width="1" height="1" fill="rgb(110,120,130)"/><rect x="840" y="398" width="1" height="1" fill="rgb(158,168,178)"/><rect x="828" y="399" width="1" height="1" fill="rgb(151,161,171)"/><rect x="829" y="399" width="1" height="1" fill="rgb(152,162,172)"/><rect x="830" y="399" width="1" height="1" fill="rgb(76,86,96)"/><rect x="832" y="399" width="1" height="1" fill="rgb(114,124,134)"/><rect x="833" y="399" width="1" height="1" fill="rgb(106,116,126)"/><rect x="834" y="399" width="1" height="1" fill="rgb(162,172,182)"/><rect x="835" y="399" width="1" height="1" fill="rgb(104,114,124)"/><rect x="837" y="399" width="1" height="1" fill="rgb(75,85,95)"/><rect x="838" y="399" width="1" height="1" fill="rgb(109,119,129)"/><rect x="839" y="399" width="1" height="1" fill="rgb(150,160,170)"/><rect x="828" y="400" width="1" height="1" fill="rgb(80,90,100)"/><rect x="829" y="400" width="1" height="1" fill="rgb(93,103,113)"/><rect x="832" y="400" width="1" height="1" fill="rgb(110,120,130)"/><rect x="834" y="400" width="1" height="1" fill="rgb(145,155,165)"/><rect x="835" y="400" width="1" height="1" fill="rgb(138,148,158)"/><rect x="836" y="400" width="1" height="1" fill="rgb(85,95,105)"/><rect x="837" y="400" width="1" height="1" fill="rgb(137,147,157)"/><rect x="838" y="400" width="1" height="1" fill="rgb(100,110,120)"/><rect x="839" y="400" width="1" height="1" fill="rgb(104,114,124)"/><rect x="840" y="400" width="1" height="1" fill="rgb(82,92,102)"/><rect x="828" y="401" width="1" height="1" fill="rgb(134,144,154)"/><rect x="829" y="401" width="1" height="1" fill="rgb(107,117,127)"/><rect x="830" y="401" width="1" height="1" fill="rgb(76,86,96)"/><rect x="831" y="401" width="1" height="1" fill="rgb(133,143,153)"/><rect x="832" y="401" width="1" height="1" fill="rgb(143,153,163)"/><rect x="834" y="401" width="1" height="1" fill="rgb(104,114,124)"/><rect x="835" y="401" width="1" height="1" fill="rgb(141,151,161)"/><rect x="838" y="401" width="1" height="1" fill="rgb(136,146,156)"/><rect x="839" y="401" width="1" height="1" fill="rgb(100,110,120)"/><rect x="840" y="401" width="1" height="1" fill="rgb(99,109,119)"/><rect x="828" y="402" width="1" height="1" fill="rgb(164,174,184)"/><rect x="829" y="402" width="1" height="1" fill="rgb(148,158,168)"/><rect x="830" y="402" width="1" height="1" fill="rgb(126,136,146)"/><rect x="831" y="402" width="1" height="1" fill="rgb(94,104,114)"/><rect x="832" y="402" width="1" height="1" fill="rgb(138,148,158)"/><rect x="833" y="402" width="1" height="1" fill="rgb(88,98,108)"/><rect x="834" y="402" width="1" height="1" fill="rgb(134,144,154)"/><rect x="835" y="402" width="1" height="1" fill="rgb(94,104,114)"/><rect x="836" y="402" width="1" height="1" fill="rgb(78,88,98)"/><rect x="837" y="402" width="1" height="1" fill="rgb(141,151,161)"/><rect x="838" y="402" width="1" height="1" fill="rgb(87,97,107)"/><rect x="839" y="402" width="1" height="1" fill="rgb(147,157,167)"/><rect x="840" y="402" width="1" height="1" fill="rgb(147,157,167)"/><rect x="828" y="403" width="1" height="1" fill="rgb(110,120,130)"/><rect x="829" y="403" width="1" height="1" fill="rgb(132,142,152)"/><rect x="830" y="403" width="1" height="1" fill="rgb(152,162,172)"/><rect x="832" y="403" width="1" height="1" fill="rgb(79,89,99)"/><rect x="833" y="403" width="1" height="1" fill="rgb(98,108,118)"/><rect x="834" y="403" width="1" height="1" fill="rgb(78,88,98)"/><rect x="835" y="403" width="1" height="1" fill="rgb(146,156,166)"/><rect x="836" y="403" width="1" height="1" fill="rgb(165,175,185)"/><rect x="837" y="403" width="1" height="1" fill="rgb(83,93,103)"/><rect x="839" y="403" width="1" height="1" fill="rgb(90,100,110)"/><rect x="840" y="403" width="1" height="1" fill="rgb(86,96,106)"/><rect x="828" y="404" width="1" height="1" fill="rgb(147,157,167)"/><rect x="829" y="404" width="1" height="1" fill="rgb(86,96,106)"/><rect x="831" y="404" width="1" height="1" fill="rgb(125,135,145)"/><rect x="832" y="404" width="1" height="1" fill="rgb(95,105,115)"/><rect x="833" y="404" width="1" height="1" fill="rgb(105,115,125)"/><rect x="835" y="404" width="1" height="1" fill="rgb(79,89,99)"/><rect x="838" y="404" width="1" height="1" fill="rgb(145,155,165)"/><rect x="828" y="405" width="1" height="1" fill="rgb(140,150,160)"/><rect x="829" y="405" width="1" height="1" fill="rgb(157,167,177)"/><rect x="830" y="405" width="1" height="1" fill="rgb(136,146,156)"/><rect x="831" y="405" width="1" height="1" fill="rgb(93,103,113)"/><rect x="832" y="405" width="1" height="1" fill="rgb(75,85,95)"/><rect x="834" y="405" width="1" height="1" fill="rgb(113,123,133)"/><rect x="835" y="405" width="1" height="1" fill="rgb(131,141,151)"/><rect x="836" y="405" width="1" height="1" fill="rgb(88,98,108)"/><rect x="837" y="405" width="1" height="1" fill="rgb(122,132,142)"/><rect x="838" y="405" width="1" height="1" fill="rgb(90,100,110)"/><rect x="839" y="405" width="1" height="1" fill="rgb(123,133,143)"/><rect x="840" y="405" width="1" height="1" fill="rgb(105,115,125)"/><rect x="831" y="406" width="1" height="1" fill="rgb(99,109,119)"/><rect x="832" y="406" width="1" height="1" fill="rgb(95,105,115)"/><rect x="834" y="406" width="1" height="1" fill="rgb(154,164,174)"/><rect x="837" y="406" width="1" height="1" fill="rgb(132,142,152)"/><rect x="840" y="406" width="1" height="1" fill="rgb(77,87,97)"/><rect x="828" y="407" width="1" height="1" fill="rgb(132,142,152)"/><rect x="830" y="407" width="1" height="1" fill="rgb(104,114,124)"/><rect x="831" y="407" width="1" height="1" fill="rgb(155,165,175)"/><rect x="832" y="407" width="1" height="1" fill="rgb(117,127,137)"/><rect x="833" y="407" width="1" height="1" fill="rgb(82,92,102)"/><rect x="834" y="407" width="1" height="1" fill="rgb(132,142,152)"/><rect x="835" y="407" width="1" height="1" fill="rgb(93,103,113)"/><rect x="836" y="407" width="1" height="1" fill="rgb(94,104,114)"/><rect x="837" y="407" width="1" height="1" fill="rgb(127,137,147)"/><rect x="838" y="407" width="1" height="1" fill="rgb(78,88,98)"/><rect x="839" y="407" width="1" height="1" fill="rgb(112,122,132)"/><rect x="840" y="407" width="1" height="1" fill="rgb(96,106,116)"/><rect x="828" y="408" width="1" height="1" fill="rgb(88,98,108)"/><rect x="829" y="408" width="1" height="1" fill="rgb(136,146,156)"/><rect x="830" y="408" width="1" height="1" fill="rgb(140,150,160)"/><rect x="831" y="408" width="1" height="1" fill="rgb(160,170,180)"/><rect x="833" y="408" width="1" height="1" fill="rgb(111,121,131)"/><rect x="834" y="408" width="1" height="1" fill="rgb(100,110,120)"/><rect x="836" y="408" width="1" height="1" fill="rgb(108,118,128)"/><rect x="839" y="408" width="1" height="1" fill="rgb(112,122,132)"/><rect x="840" y="408" width="1" height="1" fill="rgb(95,105,115)"/><rect x="828" y="409" width="1" height="1" fill="rgb(112,122,132)"/><rect x="829" y="409" width="1" height="1" fill="rgb(156,166,176)"/><rect x="830" y="409" width="1" height="1" fill="rgb(139,149,159)"/><rect x="831" y="409" width="1" height="1" fill="rgb(92,102,112)"/><rect x="832" y="409" width="1" height="1" fill="rgb(142,152,162)"/><rect x="833" y="409" width="1" height="1" fill="rgb(121,131,141)"/><rect x="834" y="409" width="1" height="1" fill="rgb(127,137,147)"/><rect x="835" y="409" width="1" height="1" fill="rgb(148,158,168)"/><rect x="836" y="409" width="1" height="1" fill="rgb(98,108,118)"/><rect x="837" y="409" width="1" height="1" fill="rgb(104,114,124)"/><rect x="838" y="409" width="1" height="1" fill="rgb(100,110,120)"/><rect x="839" y="409" width="1" height="1" fill="rgb(86,96,106)"/><rect x="828" y="410" width="1" height="1" fill="rgb(110,120,130)"/><rect x="829" y="410" width="1" height="1" fill="rgb(92,102,112)"/><rect x="830" y="410" width="1" height="1" fill="rgb(165,175,185)"/><rect x="831" y="410" width="1" height="1" fill="rgb(99,109,119)"/><rect x="832" y="410" width="1" height="1" fill="rgb(100,110,120)"/><rect x="833" y="410" width="1" height="1" fill="rgb(163,173,183)"/><rect x="834" y="410" width="1" height="1" fill="rgb(127,137,147)"/><rect x="837" y="410" width="1" height="1" fill="rgb(119,129,139)"/><rect x="838" y="410" width="1" height="1" fill="rgb(156,166,176)"/><rect x="840" y="410" width="1" height="1" fill="rgb(76,86,96)"/><rect x="828" y="411" width="1" height="1" fill="rgb(136,146,156)"/><rect x="829" y="411" width="1" height="1" fill="rgb(160,170,180)"/><rect x="830" y="411" width="1" height="1" fill="rgb(98,108,118)"/><rect x="831" y="411" width="1" height="1" fill="rgb(121,131,141)"/><rect x="832" y="411" width="1" height="1" fill="rgb(164,174,184)"/><rect x="833" y="411" width="1" height="1" fill="rgb(151,161,171)"/><rect x="835" y="411" width="1" height="1" fill="rgb(132,142,152)"/><rect x="837" y="411" width="1" height="1" fill="rgb(120,130,140)"/><rect x="838" y="411" width="1" height="1" fill="rgb(116,126,136)"/><rect x="839" y="411" width="1" height="1" fill="rgb(123,133,143)"/><rect x="840" y="411" width="1" height="1" fill="rgb(82,92,102)"/><rect x="828" y="412" width="1" height="1" fill="rgb(88,98,108)"/><rect x="830" y="412" width="1" height="1" fill="rgb(140,150,160)"/><rect x="831" y="412" width="1" height="1" fill="rgb(143,153,163)"/><rect x="832" y="412" width="1" height="1" fill="rgb(106,116,126)"/><rect x="834" y="412" width="1" height="1" fill="rgb(98,108,118)"/><rect x="835" y="412" width="1" height="1" fill="rgb(114,124,134)"/><rect x="836" y="412" width="1" height="1" fill="rgb(78,88,98)"/><rect x="837" y="412" width="1" height="1" fill="rgb(164,174,184)"/><rect x="838" y="412" width="1" height="1" fill="rgb(108,118,128)"/><rect x="839" y="412" width="1" height="1" fill="rgb(151,161,171)"/><rect x="840" y="412" width="1" height="1" fill="rgb(134,144,154)"/><rect x="828" y="413" width="1" height="1" fill="rgb(164,174,184)"/><rect x="829" y="413" width="1" height="1" fill="rgb(119,129,139)"/><rect x="831" y="413" width="1" height="1" fill="rgb(80,90,100)"/><rect x="832" y="413" width="1" height="1" fill="rgb(134,144,154)"/><rect x="833" y="413" width="1" height="1" fill="rgb(139,149,159)"/><rect x="834" y="413" width="1" height="1" fill="rgb(89,99,109)"/><rect x="835" y="413" width="1" height="1" fill="rgb(126,136,146)"/><rect x="837" y="413" width="1" height="1" fill="rgb(104,114,124)"/><rect x="839" y="413" width="1" height="1" fill="rgb(148,158,168)"/><rect x="840" y="413" width="1" height="1" fill="rgb(125,135,145)"/><rect x="828" y="273" width="1" height="140" fill="#8a9aa2" opacity="0.5"/><path d="M850,300 L895,300 L904,413 L837,413 Z" fill="#161b1e"/><path d="M857,273 L878,273 L878,300 L857,300 Z" fill="#2c353b"/><line x1="858.0" y1="273.0" x2="858.0" y2="300.0" stroke="#5d6a72" stroke-width="1"/><line x1="860.5" y1="273.0" x2="860.5" y2="300.0" stroke="#5d6a72" stroke-width="1"/><line x1="863.0" y1="273.0" x2="863.0" y2="300.0" stroke="#4a555c" stroke-width="1"/><line x1="866.0" y1="273.0" x2="866.0" y2="300.0" stroke="#7a878e" stroke-width="1"/><line x1="869.0" y1="273.0" x2="869.0" y2="300.0" stroke="#4a555c" stroke-width="1"/><line x1="872.0" y1="273.0" x2="872.0" y2="300.0" stroke="#7a878e" stroke-width="1"/><line x1="875.0" y1="273.0" x2="875.0" y2="300.0" stroke="#4a555c" stroke-width="1"/><line x1="877.0" y1="273.0" x2="877.0" y2="300.0" stroke="#4a555c" stroke-width="1"/><line x1="858.0" y1="276.0" x2="877.0" y2="279.0" stroke="#55626a" stroke-width="0.7"/><line x1="877.0" y1="276.0" x2="858.0" y2="279.0" stroke="#55626a" stroke-width="0.7"/><line x1="858.0" y1="280.0" x2="877.0" y2="283.0" stroke="#55626a" stroke-width="0.7"/><line x1="877.0" y1="280.0" x2="858.0" y2="283.0" stroke="#55626a" stroke-width="0.7"/><line x1="858.0" y1="284.0" x2="877.0" y2="287.0" stroke="#55626a" stroke-width="0.7"/><line x1="877.0" y1="284.0" x2="858.0" y2="287.0" stroke="#55626a" stroke-width="0.7"/><line x1="858.0" y1="288.0" x2="877.0" y2="291.0" stroke="#55626a" stroke-width="0.7"/><line x1="877.0" y1="288.0" x2="858.0" y2="291.0" stroke="#55626a" stroke-width="0.7"/><line x1="858.0" y1="292.0" x2="877.0" y2="295.0" stroke="#55626a" stroke-width="0.7"/><line x1="877.0" y1="292.0" x2="858.0" y2="295.0" stroke="#55626a" stroke-width="0.7"/><line x1="858.0" y1="296.0" x2="877.0" y2="299.0" stroke="#55626a" stroke-width="0.7"/><line x1="877.0" y1="296.0" x2="858.0" y2="299.0" stroke="#55626a" stroke-width="0.7"/><line x1="842.3" y1="287.3" x2="858.0" y2="283.0" stroke="#8a969c" stroke-width="1.3"/><line x1="842.3" y1="287.3" x2="852.0" y2="300.0" stroke="#8a969c" stroke-width="1.3"/><line x1="843.0" y1="289.0" x2="860.0" y2="296.0" stroke="#6a767c" stroke-width="1"/><line x1="858.0" y1="292.0" x2="907.0" y2="299.5" stroke="#6a767c" stroke-width="1.5"/><line x1="852.0" y1="300.0" x2="907.0" y2="303.0" stroke="#3a4448" stroke-width="2"/><line x1="877.0" y1="285.0" x2="907.0" y2="299.0" stroke="#7a868c" stroke-width="1"/><line x1="888.0" y1="291.0" x2="890.0" y2="302.0" stroke="#8a7070" stroke-width="1"/><line x1="905.0" y1="295.0" x2="906.0" y2="318.0" stroke="#8a969c" stroke-width="1"/><line x1="910.0" y1="297.0" x2="912.0" y2="312.0" stroke="#8a969c" stroke-width="1"/><line x1="912.0" y1="310.0" x2="917.0" y2="318.0" stroke="#6a767c" stroke-width="1"/><line x1="900.0" y1="296.0" x2="906.0" y2="306.0" stroke="#6a767c" stroke-width="1"/><line x1="850.0" y1="300.0" x2="837.0" y2="413.0" stroke="#8a979d" stroke-width="1.5"/><line x1="855.0" y1="300.0" x2="844.0" y2="413.0" stroke="#55626a" stroke-width="1.0"/><line x1="859.0" y1="300.0" x2="851.0" y2="413.0" stroke="#76838a" stroke-width="1.0"/><line x1="864.0" y1="300.0" x2="858.0" y2="413.0" stroke="#55626a" stroke-width="1.5"/><line x1="869.0" y1="300.0" x2="866.0" y2="413.0" stroke="#3e494f" stroke-width="1.0"/><line x1="874.0" y1="300.0" x2="873.0" y2="413.0" stroke="#3e494f" stroke-width="1.0"/><line x1="879.0" y1="300.0" x2="880.0" y2="413.0" stroke="#76838a" stroke-width="1.5"/><line x1="884.0" y1="300.0" x2="888.0" y2="413.0" stroke="#67747b" stroke-width="1.0"/><line x1="889.0" y1="300.0" x2="896.0" y2="413.0" stroke="#3e494f" stroke-width="1.0"/><line x1="895.0" y1="300.0" x2="904.0" y2="413.0" stroke="#8a979d" stroke-width="1.5"/><line x1="850.0" y1="300.0" x2="858.4" y2="308.0" stroke="#3c464c" stroke-width="0.9"/><line x1="859.0" y1="300.0" x2="849.1" y2="308.0" stroke="#3c464c" stroke-width="0.9"/><line x1="859.0" y1="300.0" x2="868.8" y2="308.0" stroke="#1a1f22" stroke-width="0.9"/><line x1="869.0" y1="300.0" x2="858.4" y2="308.0" stroke="#1a1f22" stroke-width="0.9"/><line x1="869.0" y1="300.0" x2="879.1" y2="308.0" stroke="#7b888f" stroke-width="0.9"/><line x1="879.0" y1="300.0" x2="868.8" y2="308.0" stroke="#7b888f" stroke-width="0.9"/><line x1="879.0" y1="300.0" x2="889.5" y2="308.0" stroke="#3c464c" stroke-width="0.9"/><line x1="889.0" y1="300.0" x2="879.1" y2="308.0" stroke="#3c464c" stroke-width="0.9"/><line x1="889.0" y1="300.0" x2="895.6" y2="308.0" stroke="#1a1f22" stroke-width="0.9"/><line x1="895.0" y1="300.0" x2="889.5" y2="308.0" stroke="#1a1f22" stroke-width="0.9"/><line x1="850.0" y1="300.0" x2="895.0" y2="300.0" stroke="#4c585e" stroke-width="0.8"/><line x1="849.1" y1="308.0" x2="857.9" y2="316.0" stroke="#4e5a60" stroke-width="0.9"/><line x1="858.4" y1="308.0" x2="848.2" y2="316.0" stroke="#4e5a60" stroke-width="0.9"/><line x1="858.4" y1="308.0" x2="868.6" y2="316.0" stroke="#7b888f" stroke-width="0.9"/><line x1="868.8" y1="308.0" x2="857.9" y2="316.0" stroke="#7b888f" stroke-width="0.9"/><line x1="868.8" y1="308.0" x2="879.1" y2="316.0" stroke="#1a1f22" stroke-width="0.9"/><line x1="879.1" y1="308.0" x2="868.6" y2="316.0" stroke="#1a1f22" stroke-width="0.9"/><line x1="879.1" y1="308.0" x2="890.0" y2="316.0" stroke="#66737a" stroke-width="0.9"/><line x1="889.5" y1="308.0" x2="879.1" y2="316.0" stroke="#66737a" stroke-width="0.9"/><line x1="889.5" y1="308.0" x2="896.3" y2="316.0" stroke="#7b888f" stroke-width="0.9"/><line x1="895.6" y1="308.0" x2="890.0" y2="316.0" stroke="#7b888f" stroke-width="0.9"/><line x1="849.1" y1="308.0" x2="895.6" y2="308.0" stroke="#4c585e" stroke-width="0.8"/><line x1="848.2" y1="316.0" x2="857.3" y2="324.0" stroke="#66737a" stroke-width="0.9"/><line x1="857.9" y1="316.0" x2="847.2" y2="324.0" stroke="#66737a" stroke-width="0.9"/><line x1="857.9" y1="316.0" x2="868.4" y2="324.0" stroke="#3c464c" stroke-width="0.9"/><line x1="868.6" y1="316.0" x2="857.3" y2="324.0" stroke="#3c464c" stroke-width="0.9"/><line x1="868.6" y1="316.0" x2="879.2" y2="324.0" stroke="#4e5a60" stroke-width="0.9"/><line x1="879.1" y1="316.0" x2="868.4" y2="324.0" stroke="#4e5a60" stroke-width="0.9"/><line x1="879.1" y1="316.0" x2="890.5" y2="324.0" stroke="#7b888f" stroke-width="0.9"/><line x1="890.0" y1="316.0" x2="879.2" y2="324.0" stroke="#7b888f" stroke-width="0.9"/><line x1="890.0" y1="316.0" x2="896.9" y2="324.0" stroke="#4e5a60" stroke-width="0.9"/><line x1="896.3" y1="316.0" x2="890.5" y2="324.0" stroke="#4e5a60" stroke-width="0.9"/><line x1="848.2" y1="316.0" x2="896.3" y2="316.0" stroke="#4c585e" stroke-width="0.8"/><line x1="847.2" y1="324.0" x2="856.7" y2="332.0" stroke="#1a1f22" stroke-width="0.9"/><line x1="857.3" y1="324.0" x2="846.3" y2="332.0" stroke="#1a1f22" stroke-width="0.9"/><line x1="857.3" y1="324.0" x2="868.2" y2="332.0" stroke="#66737a" stroke-width="0.9"/><line x1="868.4" y1="324.0" x2="856.7" y2="332.0" stroke="#66737a" stroke-width="0.9"/><line x1="868.4" y1="324.0" x2="879.3" y2="332.0" stroke="#4e5a60" stroke-width="0.9"/><line x1="879.2" y1="324.0" x2="868.2" y2="332.0" stroke="#4e5a60" stroke-width="0.9"/><line x1="879.2" y1="324.0" x2="891.0" y2="332.0" stroke="#7b888f" stroke-width="0.9"/><line x1="890.5" y1="324.0" x2="879.3" y2="332.0" stroke="#7b888f" stroke-width="0.9"/><line x1="890.5" y1="324.0" x2="897.5" y2="332.0" stroke="#3c464c" stroke-width="0.9"/><line x1="896.9" y1="324.0" x2="891.0" y2="332.0" stroke="#3c464c" stroke-width="0.9"/><line x1="847.2" y1="324.0" x2="896.9" y2="324.0" stroke="#4c585e" stroke-width="0.8"/><line x1="846.3" y1="332.0" x2="856.2" y2="340.0" stroke="#66737a" stroke-width="0.9"/><line x1="856.7" y1="332.0" x2="845.4" y2="340.0" stroke="#66737a" stroke-width="0.9"/><line x1="856.7" y1="332.0" x2="867.9" y2="340.0" stroke="#1a1f22" stroke-width="0.9"/><line x1="868.2" y1="332.0" x2="856.2" y2="340.0" stroke="#1a1f22" stroke-width="0.9"/><line x1="868.2" y1="332.0" x2="879.4" y2="340.0" stroke="#4e5a60" stroke-width="0.9"/><line x1="879.3" y1="332.0" x2="867.9" y2="340.0" stroke="#4e5a60" stroke-width="0.9"/><line x1="879.3" y1="332.0" x2="891.5" y2="340.0" stroke="#66737a" stroke-width="0.9"/><line x1="891.0" y1="332.0" x2="879.4" y2="340.0" stroke="#66737a" stroke-width="0.9"/><line x1="891.0" y1="332.0" x2="898.2" y2="340.0" stroke="#66737a" stroke-width="0.9"/><line x1="897.5" y1="332.0" x2="891.5" y2="340.0" stroke="#66737a" stroke-width="0.9"/><line x1="846.3" y1="332.0" x2="897.5" y2="332.0" stroke="#4c585e" stroke-width="0.8"/><line x1="845.4" y1="340.0" x2="855.6" y2="348.0" stroke="#3c464c" stroke-width="0.9"/><line x1="856.2" y1="340.0" x2="844.5" y2="348.0" stroke="#3c464c" stroke-width="0.9"/><line x1="856.2" y1="340.0" x2="867.7" y2="348.0" stroke="#3c464c" stroke-width="0.9"/><line x1="867.9" y1="340.0" x2="855.6" y2="348.0" stroke="#3c464c" stroke-width="0.9"/><line x1="867.9" y1="340.0" x2="879.4" y2="348.0" stroke="#3c464c" stroke-width="0.9"/><line x1="879.4" y1="340.0" x2="867.7" y2="348.0" stroke="#3c464c" stroke-width="0.9"/><line x1="879.4" y1="340.0" x2="892.0" y2="348.0" stroke="#4e5a60" stroke-width="0.9"/><line x1="891.5" y1="340.0" x2="879.4" y2="348.0" stroke="#4e5a60" stroke-width="0.9"/><line x1="891.5" y1="340.0" x2="898.8" y2="348.0" stroke="#4e5a60" stroke-width="0.9"/><line x1="898.2" y1="340.0" x2="892.0" y2="348.0" stroke="#4e5a60" stroke-width="0.9"/><line x1="845.4" y1="340.0" x2="898.2" y2="340.0" stroke="#4c585e" stroke-width="0.8"/><line x1="844.5" y1="348.0" x2="855.0" y2="356.0" stroke="#4e5a60" stroke-width="0.9"/><line x1="855.6" y1="348.0" x2="843.6" y2="356.0" stroke="#4e5a60" stroke-width="0.9"/><line x1="855.6" y1="348.0" x2="867.5" y2="356.0" stroke="#1a1f22" stroke-width="0.9"/><line x1="867.7" y1="348.0" x2="855.0" y2="356.0" stroke="#1a1f22" stroke-width="0.9"/><line x1="867.7" y1="348.0" x2="879.5" y2="356.0" stroke="#7b888f" stroke-width="0.9"/><line x1="879.4" y1="348.0" x2="867.5" y2="356.0" stroke="#7b888f" stroke-width="0.9"/><line x1="879.4" y1="348.0" x2="892.5" y2="356.0" stroke="#1a1f22" stroke-width="0.9"/><line x1="892.0" y1="348.0" x2="879.5" y2="356.0" stroke="#1a1f22" stroke-width="0.9"/><line x1="892.0" y1="348.0" x2="899.5" y2="356.0" stroke="#7b888f" stroke-width="0.9"/><line x1="898.8" y1="348.0" x2="892.5" y2="356.0" stroke="#7b888f" stroke-width="0.9"/><line x1="844.5" y1="348.0" x2="898.8" y2="348.0" stroke="#4c585e" stroke-width="0.8"/><line x1="843.6" y1="356.0" x2="854.5" y2="364.0" stroke="#1a1f22" stroke-width="0.9"/><line x1="855.0" y1="356.0" x2="842.6" y2="364.0" stroke="#1a1f22" stroke-width="0.9"/><line x1="855.0" y1="356.0" x2="867.3" y2="364.0" stroke="#4e5a60" stroke-width="0.9"/><line x1="867.5" y1="356.0" x2="854.5" y2="364.0" stroke="#4e5a60" stroke-width="0.9"/><line x1="867.5" y1="356.0" x2="879.6" y2="364.0" stroke="#1a1f22" stroke-width="0.9"/><line x1="879.5" y1="356.0" x2="867.3" y2="364.0" stroke="#1a1f22" stroke-width="0.9"/><line x1="879.5" y1="356.0" x2="893.0" y2="364.0" stroke="#4e5a60" stroke-width="0.9"/><line x1="892.5" y1="356.0" x2="879.6" y2="364.0" stroke="#4e5a60" stroke-width="0.9"/><line x1="892.5" y1="356.0" x2="900.1" y2="364.0" stroke="#7b888f" stroke-width="0.9"/><line x1="899.5" y1="356.0" x2="893.0" y2="364.0" stroke="#7b888f" stroke-width="0.9"/><line x1="843.6" y1="356.0" x2="899.5" y2="356.0" stroke="#4c585e" stroke-width="0.8"/><line x1="842.6" y1="364.0" x2="853.9" y2="372.0" stroke="#4e5a60" stroke-width="0.9"/><line x1="854.5" y1="364.0" x2="841.7" y2="372.0" stroke="#4e5a60" stroke-width="0.9"/><line x1="854.5" y1="364.0" x2="867.1" y2="372.0" stroke="#1a1f22" stroke-width="0.9"/><line x1="867.3" y1="364.0" x2="853.9" y2="372.0" stroke="#1a1f22" stroke-width="0.9"/><line x1="867.3" y1="364.0" x2="879.6" y2="372.0" stroke="#4e5a60" stroke-width="0.9"/><line x1="879.6" y1="364.0" x2="867.1" y2="372.0" stroke="#4e5a60" stroke-width="0.9"/><line x1="879.6" y1="364.0" x2="893.5" y2="372.0" stroke="#3c464c" stroke-width="0.9"/><line x1="893.0" y1="364.0" x2="879.6" y2="372.0" stroke="#3c464c" stroke-width="0.9"/><line x1="893.0" y1="364.0" x2="900.7" y2="372.0" stroke="#66737a" stroke-width="0.9"/><line x1="900.1" y1="364.0" x2="893.5" y2="372.0" stroke="#66737a" stroke-width="0.9"/><line x1="842.6" y1="364.0" x2="900.1" y2="364.0" stroke="#4c585e" stroke-width="0.8"/><line x1="841.7" y1="372.0" x2="853.3" y2="380.0" stroke="#4e5a60" stroke-width="0.9"/><line x1="853.9" y1="372.0" x2="840.8" y2="380.0" stroke="#4e5a60" stroke-width="0.9"/><line x1="853.9" y1="372.0" x2="866.9" y2="380.0" stroke="#7b888f" stroke-width="0.9"/><line x1="867.1" y1="372.0" x2="853.3" y2="380.0" stroke="#7b888f" stroke-width="0.9"/><line x1="867.1" y1="372.0" x2="879.7" y2="380.0" stroke="#4e5a60" stroke-width="0.9"/><line x1="879.6" y1="372.0" x2="866.9" y2="380.0" stroke="#4e5a60" stroke-width="0.9"/><line x1="879.6" y1="372.0" x2="894.0" y2="380.0" stroke="#7b888f" stroke-width="0.9"/><line x1="893.5" y1="372.0" x2="879.7" y2="380.0" stroke="#7b888f" stroke-width="0.9"/><line x1="893.5" y1="372.0" x2="901.4" y2="380.0" stroke="#7b888f" stroke-width="0.9"/><line x1="900.7" y1="372.0" x2="894.0" y2="380.0" stroke="#7b888f" stroke-width="0.9"/><line x1="841.7" y1="372.0" x2="900.7" y2="372.0" stroke="#4c585e" stroke-width="0.8"/><line x1="840.8" y1="380.0" x2="852.8" y2="388.0" stroke="#66737a" stroke-width="0.9"/><line x1="853.3" y1="380.0" x2="839.9" y2="388.0" stroke="#66737a" stroke-width="0.9"/><line x1="853.3" y1="380.0" x2="866.7" y2="388.0" stroke="#4e5a60" stroke-width="0.9"/><line x1="866.9" y1="380.0" x2="852.8" y2="388.0" stroke="#4e5a60" stroke-width="0.9"/><line x1="866.9" y1="380.0" x2="879.8" y2="388.0" stroke="#4e5a60" stroke-width="0.9"/><line x1="879.7" y1="380.0" x2="866.7" y2="388.0" stroke="#4e5a60" stroke-width="0.9"/><line x1="879.7" y1="380.0" x2="894.5" y2="388.0" stroke="#1a1f22" stroke-width="0.9"/><line x1="894.0" y1="380.0" x2="879.8" y2="388.0" stroke="#1a1f22" stroke-width="0.9"/><line x1="894.0" y1="380.0" x2="902.0" y2="388.0" stroke="#1a1f22" stroke-width="0.9"/><line x1="901.4" y1="380.0" x2="894.5" y2="388.0" stroke="#1a1f22" stroke-width="0.9"/><line x1="840.8" y1="380.0" x2="901.4" y2="380.0" stroke="#4c585e" stroke-width="0.8"/><line x1="839.9" y1="388.0" x2="852.2" y2="396.0" stroke="#7b888f" stroke-width="0.9"/><line x1="852.8" y1="388.0" x2="839.0" y2="396.0" stroke="#7b888f" stroke-width="0.9"/><line x1="852.8" y1="388.0" x2="866.5" y2="396.0" stroke="#4e5a60" stroke-width="0.9"/><line x1="866.7" y1="388.0" x2="852.2" y2="396.0" stroke="#4e5a60" stroke-width="0.9"/><line x1="866.7" y1="388.0" x2="879.8" y2="396.0" stroke="#3c464c" stroke-width="0.9"/><line x1="879.8" y1="388.0" x2="866.5" y2="396.0" stroke="#3c464c" stroke-width="0.9"/><line x1="879.8" y1="388.0" x2="894.9" y2="396.0" stroke="#1a1f22" stroke-width="0.9"/><line x1="894.5" y1="388.0" x2="879.8" y2="396.0" stroke="#1a1f22" stroke-width="0.9"/><line x1="894.5" y1="388.0" x2="902.6" y2="396.0" stroke="#1a1f22" stroke-width="0.9"/><line x1="902.0" y1="388.0" x2="894.9" y2="396.0" stroke="#1a1f22" stroke-width="0.9"/><line x1="839.9" y1="388.0" x2="902.0" y2="388.0" stroke="#4c585e" stroke-width="0.8"/><line x1="839.0" y1="396.0" x2="851.6" y2="404.0" stroke="#66737a" stroke-width="0.9"/><line x1="852.2" y1="396.0" x2="838.0" y2="404.0" stroke="#66737a" stroke-width="0.9"/><line x1="852.2" y1="396.0" x2="866.2" y2="404.0" stroke="#3c464c" stroke-width="0.9"/><line x1="866.5" y1="396.0" x2="851.6" y2="404.0" stroke="#3c464c" stroke-width="0.9"/><line x1="866.5" y1="396.0" x2="879.9" y2="404.0" stroke="#4e5a60" stroke-width="0.9"/><line x1="879.8" y1="396.0" x2="866.2" y2="404.0" stroke="#4e5a60" stroke-width="0.9"/><line x1="879.8" y1="396.0" x2="895.4" y2="404.0" stroke="#1a1f22" stroke-width="0.9"/><line x1="894.9" y1="396.0" x2="879.9" y2="404.0" stroke="#1a1f22" stroke-width="0.9"/><line x1="894.9" y1="396.0" x2="903.3" y2="404.0" stroke="#66737a" stroke-width="0.9"/><line x1="902.6" y1="396.0" x2="895.4" y2="404.0" stroke="#66737a" stroke-width="0.9"/><line x1="839.0" y1="396.0" x2="902.6" y2="396.0" stroke="#4c585e" stroke-width="0.8"/><line x1="838.0" y1="404.0" x2="851.1" y2="412.0" stroke="#7b888f" stroke-width="0.9"/><line x1="851.6" y1="404.0" x2="837.1" y2="412.0" stroke="#7b888f" stroke-width="0.9"/><line x1="851.6" y1="404.0" x2="866.0" y2="412.0" stroke="#3c464c" stroke-width="0.9"/><line x1="866.2" y1="404.0" x2="851.1" y2="412.0" stroke="#3c464c" stroke-width="0.9"/><line x1="866.2" y1="404.0" x2="880.0" y2="412.0" stroke="#1a1f22" stroke-width="0.9"/><line x1="879.9" y1="404.0" x2="866.0" y2="412.0" stroke="#1a1f22" stroke-width="0.9"/><line x1="879.9" y1="404.0" x2="895.9" y2="412.0" stroke="#7b888f" stroke-width="0.9"/><line x1="895.4" y1="404.0" x2="880.0" y2="412.0" stroke="#7b888f" stroke-width="0.9"/><line x1="895.4" y1="404.0" x2="903.9" y2="412.0" stroke="#7b888f" stroke-width="0.9"/><line x1="903.3" y1="404.0" x2="895.9" y2="412.0" stroke="#7b888f" stroke-width="0.9"/><line x1="838.0" y1="404.0" x2="903.3" y2="404.0" stroke="#4c585e" stroke-width="0.8"/><line x1="850.0" y1="300.0" x2="896.3" y2="316.0" stroke="#0e1214" stroke-width="1.6"/><line x1="895.0" y1="300.0" x2="848.2" y2="316.0" stroke="#5d6a72" stroke-width="1.1"/><line x1="848.2" y1="316.0" x2="897.5" y2="332.0" stroke="#0e1214" stroke-width="1.6"/><line x1="896.3" y1="316.0" x2="846.3" y2="332.0" stroke="#5d6a72" stroke-width="1.1"/><line x1="846.3" y1="332.0" x2="898.8" y2="348.0" stroke="#0e1214" stroke-width="1.6"/><line x1="897.5" y1="332.0" x2="844.5" y2="348.0" stroke="#5d6a72" stroke-width="1.1"/><line x1="844.5" y1="348.0" x2="900.1" y2="364.0" stroke="#0e1214" stroke-width="1.6"/><line x1="898.8" y1="348.0" x2="842.6" y2="364.0" stroke="#5d6a72" stroke-width="1.1"/><line x1="842.6" y1="364.0" x2="901.4" y2="380.0" stroke="#0e1214" stroke-width="1.6"/><line x1="900.1" y1="364.0" x2="840.8" y2="380.0" stroke="#5d6a72" stroke-width="1.1"/><line x1="840.8" y1="380.0" x2="902.6" y2="396.0" stroke="#0e1214" stroke-width="1.6"/><line x1="901.4" y1="380.0" x2="839.0" y2="396.0" stroke="#5d6a72" stroke-width="1.1"/><line x1="839.0" y1="396.0" x2="903.9" y2="412.0" stroke="#0e1214" stroke-width="1.6"/><line x1="902.6" y1="396.0" x2="837.1" y2="412.0" stroke="#5d6a72" stroke-width="1.1"/><line x1="836.0" y1="378.0" x2="910.0" y2="378.0" stroke="#2c3438" stroke-width="3"/><line x1="836.0" y1="381.0" x2="908.0" y2="381.0" stroke="#8d9aa2" stroke-width="1"/><line x1="836.0" y1="375.0" x2="908.0" y2="375.0" stroke="#5d6a72" stroke-width="0.8"/><line x1="828.0" y1="311.0" x2="851.0" y2="306.5" stroke="#8d9aa2" stroke-width="0.9"/><line x1="828.0" y1="328.0" x2="849.0" y2="324.0" stroke="#8d9aa2" stroke-width="0.9"/><line x1="828.0" y1="338.0" x2="851.0" y2="350.0" stroke="#8d9aa2" stroke-width="1.2"/><line x1="907.8" y1="309.2" x2="989.0" y2="413.0" stroke="#7d8a92" stroke-width="0.9"/><line x1="895.0" y1="341.0" x2="965.6" y2="413.0" stroke="#7d8a92" stroke-width="0.9"/><line x1="900.0" y1="371.0" x2="998.0" y2="367.0" stroke="#7d8a92" stroke-width="0.8"/><line x1="900.0" y1="378.0" x2="998.0" y2="374.5" stroke="#7d8a92" stroke-width="0.8"/><line x1="900.0" y1="385.0" x2="998.0" y2="381.0" stroke="#7d8a92" stroke-width="0.8"/><line x1="916.4" y1="370.0" x2="916.4" y2="413.0" stroke="#6d7a82" stroke-width="1.4"/><line x1="940.0" y1="372.0" x2="940.0" y2="413.0" stroke="#6d7a82" stroke-width="1.4"/><line x1="947.4" y1="370.0" x2="947.4" y2="413.0" stroke="#6d7a82" stroke-width="1.4"/><line x1="952.7" y1="372.0" x2="952.7" y2="413.0" stroke="#6d7a82" stroke-width="1.4"/><line x1="964.5" y1="395.0" x2="964.5" y2="413.0" stroke="#6d7a82" stroke-width="1.4"/><line x1="980.5" y1="400.0" x2="980.5" y2="413.0" stroke="#6d7a82" stroke-width="1.4"/><line x1="909.0" y1="385.0" x2="909.0" y2="413.0" stroke="#6d7a82" stroke-width="1.4"/><line x1="905.0" y1="403.3" x2="960.0" y2="403.3" stroke="#5c686e" stroke-width="1.6"/><line x1="905.0" y1="409.8" x2="975.0" y2="409.8" stroke="#4c585e" stroke-width="1.2"/><line x1="910.0" y1="388.0" x2="935.0" y2="408.0" stroke="#5c686e" stroke-width="1"/><line x1="940.0" y1="395.0" x2="955.0" y2="410.0" stroke="#5c686e" stroke-width="1.5"/><rect x="853" y="309" width="1" height="1" fill="#a8b8c0"/><rect x="870" y="315" width="1" height="1" fill="#a8b8c0"/><rect x="867" y="306" width="1" height="1" fill="#a8b8c0"/><rect x="869" y="373" width="1" height="1" fill="#a8b8c0"/><rect x="871" y="318" width="1" height="1" fill="#c8d4da"/><rect x="864" y="280" width="1" height="1" fill="#e0e8f0"/><rect x="865" y="346" width="1" height="1" fill="#a8b8c0"/><rect x="894" y="330" width="1" height="1" fill="#e0e8f0"/><rect x="854" y="394" width="1" height="1" fill="#a8b8c0"/><rect x="861" y="321" width="1" height="1" fill="#e0e8f0"/><rect x="885" y="316" width="1" height="1" fill="#e0e8f0"/><rect x="877" y="352" width="1" height="1" fill="#c8d4da"/><rect x="849" y="336" width="1" height="1" fill="#40d8e8"/><rect x="862" y="390" width="1" height="1" fill="#ffffff"/><rect x="898" y="347" width="1" height="1" fill="#e0e8f0"/><rect x="881" y="333" width="1" height="1" fill="#e0e8f0"/><rect x="878" y="369" width="1" height="1" fill="#c8d4da"/><rect x="872" y="389" width="1" height="1" fill="#40d8e8"/><rect x="878" y="313" width="1" height="1" fill="#e0e8f0"/><rect x="852" y="333" width="1" height="1" fill="#40d8e8"/><rect x="876" y="381" width="1" height="1" fill="#40d8e8"/><rect x="897" y="330" width="1" height="1" fill="#e0e8f0"/><rect x="887" y="333" width="1" height="1" fill="#a8b8c0"/><rect x="865" y="359" width="1" height="1" fill="#40d8e8"/><rect x="859" y="371" width="1" height="1" fill="#c8d4da"/><rect x="867" y="316" width="1" height="1" fill="#a8b8c0"/><rect x="880" y="358" width="1" height="1" fill="#ffffff"/><rect x="892" y="384" width="1" height="1" fill="#40d8e8"/><rect x="862" y="328" width="1" height="1" fill="#a8b8c0"/><rect x="855" y="318" width="1" height="1" fill="#a8b8c0"/><rect x="859" y="328" width="1" height="1" fill="#c8d4da"/><rect x="889" y="320" width="1" height="1" fill="#e0e8f0"/><rect x="851" y="407" width="1" height="1" fill="#40d8e8"/><rect x="900" y="398" width="1" height="1" fill="#ffffff"/><rect x="869" y="282" width="1" height="1" fill="#40d8e8"/><rect x="874" y="317" width="1" height="1" fill="#c8d4da"/><rect x="899" y="350" width="1" height="1" fill="#a8b8c0"/><rect x="885" y="389" width="1" height="1" fill="#40d8e8"/><rect x="865" y="329" width="1" height="1" fill="#a8b8c0"/><rect x="869" y="369" width="1" height="1" fill="#ffffff"/><rect x="873" y="369" width="1" height="1" fill="#ffffff"/><rect x="872" y="332" width="1" height="1" fill="#a8b8c0"/><rect x="848" y="403" width="1" height="1" fill="#e0e8f0"/><rect x="870" y="408" width="1" height="1" fill="#40d8e8"/><rect x="895" y="381" width="1" height="1" fill="#a8b8c0"/><rect x="874" y="323" width="1" height="1" fill="#ffffff"/><rect x="864" y="299" width="1" height="1" fill="#ffffff"/><rect x="872" y="389" width="1" height="1" fill="#ffffff"/><rect x="859" y="366" width="1" height="1" fill="#c8d4da"/><rect x="901" y="388" width="1" height="1" fill="#40d8e8"/><rect x="873" y="362" width="1" height="1" fill="#a8b8c0"/><rect x="890" y="304" width="1" height="1" fill="#40d8e8"/><rect x="878" y="301" width="1" height="1" fill="#a8b8c0"/><rect x="869" y="291" width="1" height="1" fill="#ffffff"/><rect x="842" y="371" width="1" height="1" fill="#ffffff"/><rect x="881" y="318" width="1" height="1" fill="#ffffff"/><rect x="864" y="402" width="1" height="1" fill="#ffffff"/><rect x="881" y="356" width="1" height="1" fill="#e0e8f0"/><rect x="885" y="300" width="1" height="1" fill="#a8b8c0"/><rect x="879" y="312" width="1" height="1" fill="#a8b8c0"/><rect x="852" y="346" width="1" height="1" fill="#e0e8f0"/><rect x="853" y="332" width="1" height="1" fill="#e0e8f0"/><rect x="872" y="347" width="1" height="1" fill="#ffffff"/><rect x="861" y="290" width="1" height="1" fill="#a8b8c0"/><rect x="870" y="343" width="1" height="1" fill="#40d8e8"/><rect x="844" y="387" width="1" height="1" fill="#ffffff"/><rect x="876" y="370" width="1" height="1" fill="#e0e8f0"/><rect x="863" y="374" width="1" height="1" fill="#e0e8f0"/><rect x="870" y="281" width="1" height="1" fill="#a8b8c0"/><rect x="862" y="285" width="1" height="1" fill="#a8b8c0"/><rect x="849" y="329" width="1" height="1" fill="#40d8e8"/><rect x="897" y="356" width="1" height="1" fill="#40d8e8"/><rect x="863" y="283" width="1" height="1" fill="#e0e8f0"/><rect x="876" y="282" width="1" height="1" fill="#e0e8f0"/><rect x="892" y="319" width="1" height="1" fill="#40d8e8"/><rect x="877" y="318" width="1" height="1" fill="#40d8e8"/><rect x="842" y="410" width="1" height="1" fill="#40d8e8"/><rect x="876" y="368" width="1" height="1" fill="#40d8e8"/><rect x="890" y="318" width="1" height="1" fill="#40d8e8"/><rect x="874" y="279" width="1" height="1" fill="#ffffff"/><rect x="865" y="300" width="1" height="1" fill="#e0e8f0"/><rect x="875" y="277" width="1" height="1" fill="#40d8e8"/><rect x="850" y="353" width="1" height="1" fill="#a8b8c0"/><rect x="860" y="395" width="1" height="1" fill="#ffffff"/><rect x="865" y="408" width="1" height="1" fill="#c8d4da"/><rect x="865" y="352" width="1" height="1" fill="#40d8e8"/><rect x="860" y="315" width="1" height="1" fill="#ffffff"/><rect x="850" y="314" width="1" height="1" fill="#e0e8f0"/><rect x="855" y="309" width="1" height="1" fill="#e0e8f0"/><rect x="888" y="313" width="1" height="1" fill="#e0e8f0"/><rect x="870" y="352" width="1" height="1" fill="#e0e8f0"/><rect x="865" y="298" width="1" height="1" fill="#40d8e8"/><rect x="895" y="328" width="1" height="1" fill="#e0e8f0"/><rect x="871" y="317" width="1" height="1" fill="#e0e8f0"/><rect x="870" y="307" width="1" height="1" fill="#e0e8f0"/><rect x="903" y="405" width="1" height="1" fill="#a8b8c0"/><rect x="876" y="399" width="1" height="1" fill="#c8d4da"/><rect x="866" y="349" width="1" height="1" fill="#a8b8c0"/><rect x="890" y="305" width="1" height="1" fill="#ffffff"/><rect x="847" y="369" width="1" height="1" fill="#c8d4da"/><rect x="887" y="377" width="1" height="1" fill="#ffffff"/><rect x="875" y="366" width="1" height="1" fill="#c8d4da"/><rect x="872" y="278" width="1" height="1" fill="#e0e8f0"/><rect x="855" y="382" width="1" height="1" fill="#e0e8f0"/><rect x="849" y="367" width="1" height="1" fill="#a8b8c0"/><rect x="890" y="401" width="1" height="1" fill="#c8d4da"/><rect x="882" y="302" width="1" height="1" fill="#ffffff"/><rect x="855" y="307" width="1" height="1" fill="#40d8e8"/><rect x="868" y="315" width="1" height="1" fill="#40d8e8"/><rect x="894" y="382" width="1" height="1" fill="#e0e8f0"/><rect x="850" y="404" width="1" height="1" fill="#c8d4da"/><rect x="881" y="369" width="1" height="1" fill="#c8d4da"/><rect x="840" y="399" width="1" height="1" fill="#40d8e8"/><rect x="889" y="310" width="1" height="1" fill="#c8d4da"/><rect x="845" y="400" width="1" height="1" fill="#c8d4da"/><rect x="875" y="292" width="1" height="1" fill="#e0e8f0"/><rect x="844" y="374" width="1" height="1" fill="#ffffff"/><rect x="868" y="359" width="1" height="1" fill="#c8d4da"/><rect x="872" y="297" width="1" height="1" fill="#a8b8c0"/><rect x="879" y="319" width="1" height="1" fill="#e0e8f0"/></g>
<text x="679" y="524.6" font-size="11" font-weight="bold" fill="#4a3a36">网络</text><rect x="706" y="519.8" width="107" height="1" fill="#1a8ad0"/><g transform="translate(9,1.5)"><path d="M685,547 L683,552 L690,548.5 Z" fill="#cfcfcf"/><ellipse cx="692.5" cy="537.5" rx="13" ry="12" fill="#cfcfcf"/><circle cx="689" cy="533" r="1.3" fill="#333"/><circle cx="698" cy="533" r="1.3" fill="#333"/><path d="M712,554 L716,558 L709,556 Z" fill="#d4d4d4"/><ellipse cx="707" cy="546.5" rx="11.5" ry="10.5" fill="#d4d4d4"/><circle cx="704" cy="543" r="1.1" fill="#333"/><circle cx="711.5" cy="543" r="1.1" fill="#333"/></g><g transform="translate(0,0)"><path d="M685,547 L683,552 L690,548.5 Z" fill="#f2f2f2"/><ellipse cx="692.5" cy="537.5" rx="13" ry="12" fill="#f2f2f2"/><circle cx="689" cy="533" r="1.3" fill="#555"/><circle cx="698" cy="533" r="1.3" fill="#555"/><path d="M712,554 L716,558 L709,556 Z" fill="#ececec"/><ellipse cx="707" cy="546.5" rx="11.5" ry="10.5" fill="#ececec"/><circle cx="704" cy="543" r="1.1" fill="#555"/><circle cx="711.5" cy="543" r="1.1" fill="#555"/></g><text x="737.0 767.8 799.4 838.0 862.0 890.5 920.0 950.8 980.2 1010.3" y="552.6" font-size="30" font-weight="300" fill="#4e4e4e">服务号·扬州康德电气</text><text x="728.0 758.8 790.4 829.0 853.0 881.5 911.0 941.8 971.2 1001.3" y="550.6" font-size="30" font-weight="300" fill="#a8a8a8">服务号·扬州康德电气</text>
</svg>
</body></html>
